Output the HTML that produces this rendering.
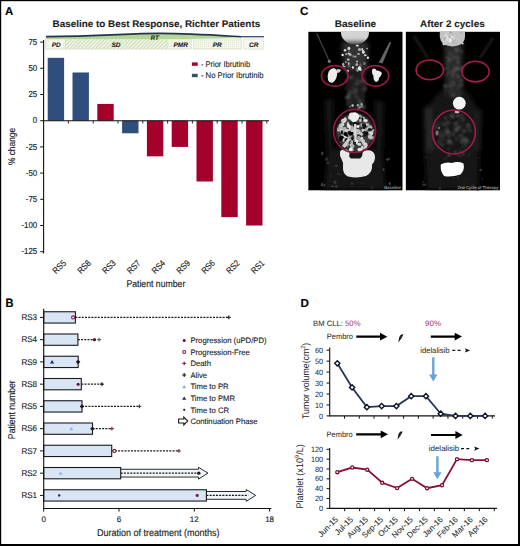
<!DOCTYPE html>
<html><head><meta charset="utf-8"><title>Figure</title>
<style>
html,body{margin:0;padding:0;background:#fff;}
svg{display:block;font-family:"Liberation Sans", sans-serif;text-rendering:geometricPrecision;}
</style></head>
<body>
<svg width="520" height="546" viewBox="0 0 520 546">
<rect x="0.00" y="0.00" width="520.00" height="546.00" fill="#000" />
<rect x="1.20" y="1.20" width="516.80" height="542.80" fill="#fff" />
<text x="5.00" y="14.80" font-size="11.4" text-anchor="start" stroke="#000" stroke-width="0.15" font-weight="bold" fill="#000">A</text>
<text x="52.50" y="26.80" font-size="9.6" text-anchor="start" stroke="#1c1c1c" stroke-width="0.1" font-weight="bold" fill="#1c1c1c" textLength="207.7" lengthAdjust="spacingAndGlyphs">Baseline to Best Response, Richter Patients</text>
<defs>
<pattern id="hatch" width="2.6" height="2.6" patternUnits="userSpaceOnUse" patternTransform="rotate(45)">
<rect width="2.6" height="2.6" fill="#f4f7ec"/><rect width="1.1" height="2.6" fill="#c9dcb4"/></pattern>
<pattern id="dots" width="2" height="2" patternUnits="userSpaceOnUse">
<rect width="2" height="2" fill="#f3f6ea"/><rect width="1" height="1" fill="#e3ebd3"/></pattern>
</defs>
<rect x="45.40" y="38.90" width="20.00" height="10.20" fill="#edf2e2" stroke="#d2dcc4" stroke-width="0.6"/>
<rect x="49.00" y="40.70" width="14.00" height="6.80" fill="#f8faf5" />
<rect x="65.40" y="38.90" width="101.30" height="10.20" fill="url(#hatch)" stroke="#d2dcc4" stroke-width="0.6"/>
<rect x="167.70" y="38.90" width="24.00" height="10.20" fill="#eef2e2" stroke="#d2dcc4" stroke-width="0.6"/>
<rect x="193.20" y="38.90" width="48.30" height="10.20" fill="url(#dots)" stroke="#d2dcc4" stroke-width="0.6"/>
<rect x="243.80" y="38.90" width="20.00" height="10.20" fill="#f5f7ee" stroke="#d2dcc4" stroke-width="0.6"/>
<text x="56.20" y="46.50" font-size="6.5" text-anchor="middle" stroke="#1a1a1a" stroke-width="0.1" font-weight="bold" font-style="italic" fill="#1a1a1a">PD</text>
<text x="116.00" y="46.50" font-size="6.5" text-anchor="middle" stroke="#1a1a1a" stroke-width="0.1" font-weight="bold" font-style="italic" fill="#1a1a1a">SD</text>
<text x="180.70" y="46.50" font-size="6.5" text-anchor="middle" stroke="#1a1a1a" stroke-width="0.1" font-weight="bold" font-style="italic" fill="#1a1a1a">PMR</text>
<text x="217.30" y="46.50" font-size="6.5" text-anchor="middle" stroke="#1a1a1a" stroke-width="0.1" font-weight="bold" font-style="italic" fill="#1a1a1a">PR</text>
<text x="253.80" y="46.50" font-size="6.5" text-anchor="middle" stroke="#1a1a1a" stroke-width="0.1" font-weight="bold" font-style="italic" fill="#1a1a1a">CR</text>
<path d="M46,36.6 C100,36.4 130,33.3 160,33.4 C190,33.5 220,35.5 241,36.7 L241,37.2 Q215,38.9 185,38.9 L46,38.9 Z" fill="#b5d69a"/>
<path d="M46,36.6 C100,36.4 130,33.3 160,33.4 C190,33.5 220,35.5 241,36.7" fill="none" stroke="#24344e" stroke-width="1.6"/>
<path d="M240,36.7 L264,36.7" fill="none" stroke="#34497e" stroke-width="1.3"/>
<text x="154.60" y="39.50" font-size="6.4" text-anchor="middle" stroke="#1d3a1a" stroke-width="0.1" font-weight="bold" font-style="italic" fill="#1d3a1a">RT</text>
<line x1="43.60" y1="40.00" x2="43.60" y2="253.50" stroke="#111" stroke-width="1.1" />
<line x1="40.20" y1="42.10" x2="43.60" y2="42.10" stroke="#111" stroke-width="1" />
<text x="37.20" y="44.85" font-size="8.7" text-anchor="end" stroke="#1c1c1c" stroke-width="0.15" fill="#1c1c1c" textLength="8.79" lengthAdjust="spacingAndGlyphs">75</text>
<line x1="40.20" y1="68.30" x2="43.60" y2="68.30" stroke="#111" stroke-width="1" />
<text x="37.20" y="71.05" font-size="8.7" text-anchor="end" stroke="#1c1c1c" stroke-width="0.15" fill="#1c1c1c" textLength="8.79" lengthAdjust="spacingAndGlyphs">50</text>
<line x1="40.20" y1="94.50" x2="43.60" y2="94.50" stroke="#111" stroke-width="1" />
<text x="37.20" y="97.25" font-size="8.7" text-anchor="end" stroke="#1c1c1c" stroke-width="0.15" fill="#1c1c1c" textLength="8.79" lengthAdjust="spacingAndGlyphs">25</text>
<line x1="40.20" y1="120.70" x2="43.60" y2="120.70" stroke="#111" stroke-width="1" />
<text x="37.20" y="123.45" font-size="8.7" text-anchor="end" stroke="#1c1c1c" stroke-width="0.15" fill="#1c1c1c" textLength="4.39" lengthAdjust="spacingAndGlyphs">0</text>
<line x1="40.20" y1="146.90" x2="43.60" y2="146.90" stroke="#111" stroke-width="1" />
<text x="37.20" y="149.65" font-size="8.7" text-anchor="end" stroke="#1c1c1c" stroke-width="0.15" fill="#1c1c1c" textLength="11.42" lengthAdjust="spacingAndGlyphs">-25</text>
<line x1="40.20" y1="173.10" x2="43.60" y2="173.10" stroke="#111" stroke-width="1" />
<text x="37.20" y="175.85" font-size="8.7" text-anchor="end" stroke="#1c1c1c" stroke-width="0.15" fill="#1c1c1c" textLength="11.42" lengthAdjust="spacingAndGlyphs">-50</text>
<line x1="40.20" y1="199.30" x2="43.60" y2="199.30" stroke="#111" stroke-width="1" />
<text x="37.20" y="202.05" font-size="8.7" text-anchor="end" stroke="#1c1c1c" stroke-width="0.15" fill="#1c1c1c" textLength="11.42" lengthAdjust="spacingAndGlyphs">-75</text>
<line x1="40.20" y1="225.50" x2="43.60" y2="225.50" stroke="#111" stroke-width="1" />
<text x="37.20" y="228.25" font-size="8.7" text-anchor="end" stroke="#1c1c1c" stroke-width="0.15" fill="#1c1c1c" textLength="15.81" lengthAdjust="spacingAndGlyphs">-100</text>
<line x1="40.20" y1="251.70" x2="43.60" y2="251.70" stroke="#111" stroke-width="1" />
<text x="37.20" y="254.45" font-size="8.7" text-anchor="end" stroke="#1c1c1c" stroke-width="0.15" fill="#1c1c1c" textLength="15.81" lengthAdjust="spacingAndGlyphs">-125</text>
<rect x="47.70" y="57.82" width="16.40" height="62.88" fill="#2f4e7d" />
<rect x="72.50" y="72.49" width="16.40" height="48.21" fill="#2f4e7d" />
<rect x="97.30" y="103.93" width="16.40" height="16.77" fill="#a3002b" />
<rect x="122.10" y="120.70" width="16.40" height="12.58" fill="#2f4e7d" />
<rect x="146.90" y="120.70" width="16.40" height="35.63" fill="#a3002b" />
<rect x="171.70" y="120.70" width="16.40" height="26.20" fill="#a3002b" />
<rect x="196.50" y="120.70" width="16.40" height="60.78" fill="#a3002b" />
<rect x="221.30" y="120.70" width="16.40" height="96.42" fill="#a3002b" />
<rect x="246.10" y="120.70" width="16.40" height="104.80" fill="#a3002b" />
<line x1="43.60" y1="120.70" x2="269.00" y2="120.70" stroke="#111" stroke-width="1.1" />
<line x1="68.40" y1="120.70" x2="68.40" y2="123.50" stroke="#111" stroke-width="0.9" />
<line x1="93.20" y1="120.70" x2="93.20" y2="123.50" stroke="#111" stroke-width="0.9" />
<line x1="118.00" y1="120.70" x2="118.00" y2="123.50" stroke="#111" stroke-width="0.9" />
<line x1="142.80" y1="120.70" x2="142.80" y2="123.50" stroke="#111" stroke-width="0.9" />
<line x1="167.60" y1="120.70" x2="167.60" y2="123.50" stroke="#111" stroke-width="0.9" />
<line x1="192.40" y1="120.70" x2="192.40" y2="123.50" stroke="#111" stroke-width="0.9" />
<line x1="217.20" y1="120.70" x2="217.20" y2="123.50" stroke="#111" stroke-width="0.9" />
<line x1="242.00" y1="120.70" x2="242.00" y2="123.50" stroke="#111" stroke-width="0.9" />
<line x1="266.80" y1="120.70" x2="266.80" y2="123.50" stroke="#111" stroke-width="0.9" />
<text x="0" y="0" transform="translate(66.70,263.60) rotate(-45)" font-size="8.8" text-anchor="end" stroke="#1c1c1c" stroke-width="0.15" fill="#1c1c1c" textLength="15.0" lengthAdjust="spacingAndGlyphs">RS5</text>
<text x="0" y="0" transform="translate(91.50,263.60) rotate(-45)" font-size="8.8" text-anchor="end" stroke="#1c1c1c" stroke-width="0.15" fill="#1c1c1c" textLength="15.0" lengthAdjust="spacingAndGlyphs">RS8</text>
<text x="0" y="0" transform="translate(116.30,263.60) rotate(-45)" font-size="8.8" text-anchor="end" stroke="#1c1c1c" stroke-width="0.15" fill="#1c1c1c" textLength="15.0" lengthAdjust="spacingAndGlyphs">RS3</text>
<text x="0" y="0" transform="translate(141.10,263.60) rotate(-45)" font-size="8.8" text-anchor="end" stroke="#1c1c1c" stroke-width="0.15" fill="#1c1c1c" textLength="15.0" lengthAdjust="spacingAndGlyphs">RS7</text>
<text x="0" y="0" transform="translate(165.90,263.60) rotate(-45)" font-size="8.8" text-anchor="end" stroke="#1c1c1c" stroke-width="0.15" fill="#1c1c1c" textLength="15.0" lengthAdjust="spacingAndGlyphs">RS4</text>
<text x="0" y="0" transform="translate(190.70,263.60) rotate(-45)" font-size="8.8" text-anchor="end" stroke="#1c1c1c" stroke-width="0.15" fill="#1c1c1c" textLength="15.0" lengthAdjust="spacingAndGlyphs">RS9</text>
<text x="0" y="0" transform="translate(215.50,263.60) rotate(-45)" font-size="8.8" text-anchor="end" stroke="#1c1c1c" stroke-width="0.15" fill="#1c1c1c" textLength="15.0" lengthAdjust="spacingAndGlyphs">RS6</text>
<text x="0" y="0" transform="translate(240.30,263.60) rotate(-45)" font-size="8.8" text-anchor="end" stroke="#1c1c1c" stroke-width="0.15" fill="#1c1c1c" textLength="15.0" lengthAdjust="spacingAndGlyphs">RS2</text>
<text x="0" y="0" transform="translate(265.10,263.60) rotate(-45)" font-size="8.8" text-anchor="end" stroke="#1c1c1c" stroke-width="0.15" fill="#1c1c1c" textLength="15.0" lengthAdjust="spacingAndGlyphs">RS1</text>
<text x="126.40" y="286.90" font-size="9.8" text-anchor="start" stroke="#1c1c1c" stroke-width="0.15" fill="#1c1c1c" textLength="58.9" lengthAdjust="spacingAndGlyphs">Patient number</text>
<text x="0" y="0" transform="translate(15.10,146.50) rotate(-90)" font-size="9.6" text-anchor="middle" stroke="#1c1c1c" stroke-width="0.15" fill="#1c1c1c" textLength="37.2" lengthAdjust="spacingAndGlyphs">% change</text>
<rect x="191.90" y="62.40" width="5.80" height="3.40" fill="#a3002b" />
<rect x="191.90" y="73.80" width="5.80" height="3.40" fill="#2e5272" />
<text x="200.90" y="66.80" font-size="8.3" text-anchor="start" stroke="#1c1c1c" stroke-width="0.12" fill="#1c1c1c" textLength="49.2" lengthAdjust="spacingAndGlyphs">- Prior Ibrutinib</text>
<text x="200.90" y="78.30" font-size="8.3" text-anchor="start" stroke="#1c1c1c" stroke-width="0.12" fill="#1c1c1c" textLength="62.6" lengthAdjust="spacingAndGlyphs">- No Prior Ibrutinib</text>
<text x="300.00" y="15.00" font-size="11.6" text-anchor="start" stroke="#000" stroke-width="0.15" font-weight="bold" fill="#000">C</text>
<text x="334.70" y="27.20" font-size="9.6" text-anchor="start" stroke="#1c1c1c" stroke-width="0.1" font-weight="bold" fill="#1c1c1c" textLength="41.5" lengthAdjust="spacingAndGlyphs">Baseline</text>
<text x="420.00" y="27.20" font-size="9.6" text-anchor="start" stroke="#1c1c1c" stroke-width="0.1" font-weight="bold" fill="#1c1c1c" textLength="64.7" lengthAdjust="spacingAndGlyphs">After 2 cycles</text>
<defs>
<filter id="bl1" x="-50%" y="-50%" width="200%" height="200%"><feGaussianBlur stdDeviation="1.2"/></filter>
<filter id="bl2" x="-50%" y="-50%" width="200%" height="200%"><feGaussianBlur stdDeviation="2.5"/></filter>
<filter id="bl05" x="-50%" y="-50%" width="200%" height="200%"><feGaussianBlur stdDeviation="0.45"/></filter>
<filter id="bl07" x="-50%" y="-50%" width="200%" height="200%"><feGaussianBlur stdDeviation="0.7"/></filter>
<clipPath id="c1"><rect x="308.2" y="31.6" width="94.5" height="159"/></clipPath>
<clipPath id="c2"><rect x="405.6" y="31.6" width="94.4" height="159"/></clipPath>
</defs>
<g clip-path="url(#c1)">
<rect x="308.2" y="31.6" width="94.5" height="159" fill="#000"/>
<g filter="url(#bl2)">
<path d="M325,100 L333,98 L333,150 L327,152 Z" fill="#161616"/>
<path d="M375,100 L384,102 L383,148 L375,150 Z" fill="#161616"/>
<path d="M328,150 Q355,145 382,150 L386,190 L324,190 Z" fill="#141414"/>
</g>
<g filter="url(#bl07)"><ellipse cx="352.8" cy="172.4" rx="1.34" ry="1.83" fill="rgb(54,54,54)"/><ellipse cx="334.9" cy="182.2" rx="1.56" ry="1.75" fill="rgb(55,55,55)"/><ellipse cx="328.4" cy="162.1" rx="1.45" ry="1.87" fill="rgb(30,30,30)"/><ellipse cx="365.1" cy="173.8" rx="1.96" ry="1.58" fill="rgb(50,50,50)"/><ellipse cx="363.9" cy="156.3" rx="1.80" ry="0.88" fill="rgb(25,25,25)"/><ellipse cx="324.4" cy="185.2" rx="0.84" ry="1.36" fill="rgb(63,63,63)"/><ellipse cx="352.0" cy="183.7" rx="1.08" ry="1.15" fill="rgb(58,58,58)"/><ellipse cx="322.3" cy="153.4" rx="1.13" ry="2.00" fill="rgb(66,66,66)"/><ellipse cx="389.7" cy="183.6" rx="1.10" ry="1.71" fill="rgb(70,70,70)"/><ellipse cx="356.9" cy="151.2" rx="1.72" ry="1.28" fill="rgb(61,61,61)"/><ellipse cx="379.6" cy="165.5" rx="1.82" ry="0.80" fill="rgb(26,26,26)"/><ellipse cx="336.3" cy="186.4" rx="1.25" ry="1.65" fill="rgb(55,55,55)"/><ellipse cx="350.5" cy="172.6" rx="1.73" ry="1.12" fill="rgb(37,37,37)"/><ellipse cx="327.9" cy="163.3" rx="1.71" ry="0.94" fill="rgb(51,51,51)"/><ellipse cx="338.8" cy="154.0" rx="1.36" ry="1.38" fill="rgb(28,28,28)"/><ellipse cx="368.4" cy="157.5" rx="1.03" ry="1.68" fill="rgb(57,57,57)"/><ellipse cx="330.9" cy="175.7" rx="1.27" ry="1.99" fill="rgb(32,32,32)"/><ellipse cx="322.0" cy="184.6" rx="1.16" ry="1.86" fill="rgb(62,62,62)"/><ellipse cx="336.3" cy="165.8" rx="1.57" ry="0.92" fill="rgb(63,63,63)"/><ellipse cx="389.3" cy="158.5" rx="0.81" ry="1.53" fill="rgb(41,41,41)"/><ellipse cx="378.5" cy="165.4" rx="0.91" ry="1.50" fill="rgb(29,29,29)"/><ellipse cx="338.5" cy="174.1" rx="1.55" ry="0.95" fill="rgb(48,48,48)"/><ellipse cx="361.9" cy="183.3" rx="1.84" ry="1.02" fill="rgb(33,33,33)"/><ellipse cx="332.5" cy="186.3" rx="1.10" ry="1.03" fill="rgb(64,64,64)"/><ellipse cx="372.3" cy="187.6" rx="1.62" ry="1.27" fill="rgb(37,37,37)"/><ellipse cx="354.8" cy="153.1" rx="0.92" ry="0.85" fill="rgb(28,28,28)"/><ellipse cx="387.5" cy="159.5" rx="1.27" ry="1.30" fill="rgb(70,70,70)"/><ellipse cx="383.5" cy="169.6" rx="1.01" ry="1.66" fill="rgb(58,58,58)"/><ellipse cx="326.7" cy="159.1" rx="1.58" ry="1.54" fill="rgb(60,60,60)"/><ellipse cx="327.0" cy="158.5" rx="1.70" ry="0.88" fill="rgb(38,38,38)"/></g>
<g filter="url(#bl05)"><line x1="316.8" y1="33.5" x2="329" y2="60.5" stroke="#3c3c3c" stroke-width="1.4"/><circle cx="329.3" cy="61.3" r="1.6" fill="#7a7a7a"/>
<path d="M389.8,41.5 L391,43 L382.5,63.5 L378.8,62.5 Z" fill="#666"/></g>
<ellipse cx="355" cy="32.5" rx="14" ry="12" fill="#d4d4d4" filter="url(#bl05)"/>
<path d="M342,42 L368,42 L367,72 L344,72 Z" fill="#333" filter="url(#bl2)"/>
<path d="M346,72 L366,72 L365,110 L347,110 Z" fill="#1c1c1c" filter="url(#bl1)"/>
<g filter="url(#bl05)"><ellipse cx="348.2" cy="59.7" rx="1.52" ry="1.13" fill="rgb(184,184,184)"/><ellipse cx="357.1" cy="61.4" rx="0.93" ry="0.91" fill="rgb(210,210,210)"/><ellipse cx="367.9" cy="57.7" rx="1.13" ry="1.28" fill="rgb(230,230,230)"/><ellipse cx="345.9" cy="62.1" rx="1.05" ry="0.71" fill="rgb(223,223,223)"/><ellipse cx="362.2" cy="49.3" rx="0.74" ry="1.40" fill="rgb(241,241,241)"/><ellipse cx="363.4" cy="52.3" rx="1.35" ry="1.49" fill="rgb(242,242,242)"/><ellipse cx="360.6" cy="69.9" rx="1.36" ry="1.22" fill="rgb(191,191,191)"/><ellipse cx="367.1" cy="48.6" rx="0.79" ry="0.82" fill="rgb(183,183,183)"/><ellipse cx="347.6" cy="71.1" rx="1.40" ry="1.47" fill="rgb(201,201,201)"/><ellipse cx="352.9" cy="67.5" rx="1.02" ry="1.23" fill="rgb(236,236,236)"/><ellipse cx="357.2" cy="69.4" rx="1.47" ry="1.59" fill="rgb(97,97,97)"/><ellipse cx="359.5" cy="49.4" rx="1.57" ry="1.51" fill="rgb(173,173,173)"/><ellipse cx="356.8" cy="64.3" rx="1.27" ry="1.59" fill="rgb(144,144,144)"/><ellipse cx="348.9" cy="48.4" rx="1.47" ry="1.59" fill="rgb(213,213,213)"/><ellipse cx="344.3" cy="66.6" rx="1.51" ry="0.72" fill="rgb(195,195,195)"/><ellipse cx="353.1" cy="56.2" rx="0.74" ry="1.25" fill="rgb(120,120,120)"/><ellipse cx="343.2" cy="64.4" rx="1.20" ry="1.53" fill="rgb(174,174,174)"/><ellipse cx="349.3" cy="51.4" rx="0.98" ry="0.77" fill="rgb(99,99,99)"/><ellipse cx="357.6" cy="45.8" rx="1.57" ry="0.96" fill="rgb(140,140,140)"/><ellipse cx="348.8" cy="63.6" rx="0.98" ry="1.56" fill="rgb(176,176,176)"/><ellipse cx="365.3" cy="55.2" rx="1.48" ry="1.05" fill="rgb(207,207,207)"/><ellipse cx="364.5" cy="63.4" rx="1.26" ry="1.55" fill="rgb(116,116,116)"/><ellipse cx="355.2" cy="56.6" rx="1.54" ry="1.09" fill="rgb(150,150,150)"/><ellipse cx="348.7" cy="53.2" rx="0.71" ry="1.07" fill="rgb(176,176,176)"/><ellipse cx="357.1" cy="45.5" rx="1.23" ry="0.82" fill="rgb(247,247,247)"/><ellipse cx="358.5" cy="54.0" rx="1.31" ry="1.02" fill="rgb(180,180,180)"/><ellipse cx="360.4" cy="64.9" rx="1.23" ry="1.56" fill="rgb(95,95,95)"/><ellipse cx="342.6" cy="55.0" rx="1.11" ry="1.23" fill="rgb(250,250,250)"/><ellipse cx="350.3" cy="54.8" rx="1.38" ry="1.46" fill="rgb(170,170,170)"/><ellipse cx="348.9" cy="66.3" rx="1.40" ry="0.72" fill="rgb(116,116,116)"/><ellipse cx="356.8" cy="64.8" rx="1.15" ry="1.29" fill="rgb(169,169,169)"/><ellipse cx="349.0" cy="53.9" rx="1.28" ry="0.79" fill="rgb(201,201,201)"/><ellipse cx="357.6" cy="70.6" rx="1.09" ry="1.47" fill="rgb(147,147,147)"/><ellipse cx="346.4" cy="54.1" rx="1.50" ry="1.11" fill="rgb(145,145,145)"/></g>
<g filter="url(#bl05)"><ellipse cx="359.5" cy="68.2" rx="1.6" ry="2" fill="#f0f0f0"/><ellipse cx="345" cy="50.3" rx="1.2" ry="1.2" fill="#ddd"/><ellipse cx="363" cy="51" rx="1.2" ry="1.3" fill="#ccc"/></g>
<g filter="url(#bl1)"><ellipse cx="349.3" cy="96.8" rx="1.34" ry="2.01" fill="rgb(70,70,70)"/><ellipse cx="365.8" cy="89.1" rx="1.22" ry="1.63" fill="rgb(62,62,62)"/><ellipse cx="361.8" cy="72.5" rx="1.51" ry="1.17" fill="rgb(67,67,67)"/><ellipse cx="361.0" cy="105.2" rx="1.05" ry="2.20" fill="rgb(74,74,74)"/><ellipse cx="360.8" cy="103.5" rx="1.53" ry="2.15" fill="rgb(69,69,69)"/><ellipse cx="356.8" cy="97.0" rx="2.14" ry="1.44" fill="rgb(71,71,71)"/><ellipse cx="349.1" cy="101.4" rx="1.97" ry="1.02" fill="rgb(37,37,37)"/><ellipse cx="349.2" cy="98.2" rx="1.58" ry="1.22" fill="rgb(55,55,55)"/><ellipse cx="346.7" cy="103.2" rx="1.09" ry="1.24" fill="rgb(45,45,45)"/><ellipse cx="359.5" cy="100.9" rx="1.91" ry="1.92" fill="rgb(72,72,72)"/><ellipse cx="357.6" cy="98.3" rx="1.67" ry="1.67" fill="rgb(37,37,37)"/><ellipse cx="353.8" cy="84.3" rx="2.07" ry="1.49" fill="rgb(39,39,39)"/><ellipse cx="353.3" cy="88.2" rx="1.38" ry="1.58" fill="rgb(54,54,54)"/><ellipse cx="351.3" cy="102.0" rx="1.86" ry="2.19" fill="rgb(40,40,40)"/><ellipse cx="355.9" cy="89.7" rx="1.72" ry="1.63" fill="rgb(65,65,65)"/><ellipse cx="357.4" cy="83.5" rx="1.14" ry="1.80" fill="rgb(69,69,69)"/><ellipse cx="358.5" cy="102.0" rx="1.42" ry="1.72" fill="rgb(51,51,51)"/><ellipse cx="352.1" cy="75.7" rx="2.11" ry="1.21" fill="rgb(34,34,34)"/><ellipse cx="354.6" cy="77.8" rx="1.81" ry="2.08" fill="rgb(32,32,32)"/><ellipse cx="365.2" cy="86.7" rx="2.15" ry="1.71" fill="rgb(40,40,40)"/><ellipse cx="363.7" cy="89.7" rx="1.80" ry="2.12" fill="rgb(54,54,54)"/><ellipse cx="350.9" cy="92.2" rx="1.97" ry="1.93" fill="rgb(58,58,58)"/><ellipse cx="355.7" cy="102.1" rx="2.02" ry="1.79" fill="rgb(33,33,33)"/><ellipse cx="346.7" cy="80.9" rx="1.08" ry="1.41" fill="rgb(55,55,55)"/><ellipse cx="364.0" cy="107.4" rx="1.87" ry="1.06" fill="rgb(77,77,77)"/><ellipse cx="348.8" cy="95.4" rx="1.57" ry="2.14" fill="rgb(76,76,76)"/><ellipse cx="364.0" cy="85.2" rx="2.06" ry="1.72" fill="rgb(39,39,39)"/><ellipse cx="354.5" cy="92.9" rx="1.37" ry="1.64" fill="rgb(60,60,60)"/><ellipse cx="351.5" cy="99.7" rx="1.46" ry="1.15" fill="rgb(30,30,30)"/><ellipse cx="360.3" cy="81.5" rx="1.77" ry="2.02" fill="rgb(50,50,50)"/><ellipse cx="357.7" cy="81.3" rx="1.90" ry="1.97" fill="rgb(55,55,55)"/><ellipse cx="348.8" cy="77.1" rx="1.11" ry="1.03" fill="rgb(55,55,55)"/><ellipse cx="354.9" cy="77.1" rx="1.79" ry="1.15" fill="rgb(37,37,37)"/><ellipse cx="356.8" cy="83.7" rx="2.07" ry="1.75" fill="rgb(61,61,61)"/><ellipse cx="349.6" cy="102.9" rx="1.85" ry="1.66" fill="rgb(42,42,42)"/><ellipse cx="346.9" cy="97.6" rx="1.93" ry="1.95" fill="rgb(77,77,77)"/><ellipse cx="346.2" cy="88.7" rx="1.48" ry="1.68" fill="rgb(34,34,34)"/><ellipse cx="363.1" cy="80.4" rx="1.73" ry="1.89" fill="rgb(74,74,74)"/><ellipse cx="350.9" cy="77.6" rx="2.08" ry="1.35" fill="rgb(76,76,76)"/><ellipse cx="356.1" cy="91.8" rx="1.12" ry="1.72" fill="rgb(66,66,66)"/></g>
<g filter="url(#bl05)"><ellipse cx="352.6" cy="105.5" rx="1.26" ry="1.32" fill="rgb(197,197,197)"/><ellipse cx="358.1" cy="105.3" rx="1.15" ry="0.83" fill="rgb(138,138,138)"/><ellipse cx="350.0" cy="106.8" rx="0.72" ry="0.79" fill="rgb(147,147,147)"/><ellipse cx="358.6" cy="108.0" rx="1.28" ry="0.76" fill="rgb(145,145,145)"/><ellipse cx="360.1" cy="107.1" rx="1.28" ry="1.22" fill="rgb(143,143,143)"/><ellipse cx="362.3" cy="106.4" rx="0.95" ry="0.86" fill="rgb(142,142,142)"/><ellipse cx="361.6" cy="104.4" rx="1.17" ry="1.32" fill="rgb(164,164,164)"/><ellipse cx="357.9" cy="105.2" rx="1.27" ry="1.26" fill="rgb(154,154,154)"/></g>
<g filter="url(#bl05)"><path d="M328.5,72 Q331,67.5 335,68.5 Q338,70.5 337,75 Q336.5,80 333,82.5 Q329,83.5 328,80 Q327,76 328.5,72 Z" fill="#ececec"/>
<path d="M336,70 Q339,68 341,70 Q340,73 337.5,73 Z" fill="#cfcfcf"/>
<path d="M372.5,69 Q375,67.5 376.5,70.5 Q380,70 382,73 Q381,76.5 379,78 Q379,81.5 376,82 Q373,80 373.5,76 Q371,72.5 372.5,69 Z" fill="#ececec"/></g>
<ellipse cx="355" cy="132" rx="19" ry="19" fill="#3c3c3c" filter="url(#bl1)"/>
<g filter="url(#bl07)"><ellipse cx="343.6" cy="120.9" rx="2.41" ry="2.11" fill="rgb(248,248,248)"/><ellipse cx="357.8" cy="130.5" rx="2.16" ry="1.37" fill="rgb(219,219,219)"/><ellipse cx="361.9" cy="134.3" rx="1.70" ry="1.37" fill="rgb(207,207,207)"/><ellipse cx="341.5" cy="128.2" rx="2.10" ry="1.61" fill="rgb(161,161,161)"/><ellipse cx="362.1" cy="147.7" rx="1.24" ry="2.20" fill="rgb(209,209,209)"/><ellipse cx="364.4" cy="143.1" rx="1.20" ry="2.46" fill="rgb(176,176,176)"/><ellipse cx="371.3" cy="132.5" rx="2.31" ry="1.43" fill="rgb(181,181,181)"/><ellipse cx="368.2" cy="128.7" rx="1.94" ry="1.27" fill="rgb(246,246,246)"/><ellipse cx="363.0" cy="130.4" rx="1.45" ry="1.54" fill="rgb(209,209,209)"/><ellipse cx="358.6" cy="138.1" rx="1.50" ry="2.23" fill="rgb(168,168,168)"/><ellipse cx="342.8" cy="124.6" rx="1.51" ry="1.46" fill="rgb(250,250,250)"/><ellipse cx="360.4" cy="120.3" rx="1.28" ry="1.71" fill="rgb(200,200,200)"/><ellipse cx="359.2" cy="140.4" rx="2.42" ry="1.54" fill="rgb(162,162,162)"/><ellipse cx="343.7" cy="139.8" rx="1.55" ry="1.87" fill="rgb(213,213,213)"/><ellipse cx="359.0" cy="132.2" rx="1.94" ry="2.43" fill="rgb(183,183,183)"/><ellipse cx="361.7" cy="138.2" rx="1.52" ry="1.53" fill="rgb(219,219,219)"/><ellipse cx="338.9" cy="129.5" rx="1.88" ry="2.17" fill="rgb(173,173,173)"/><ellipse cx="348.2" cy="139.5" rx="2.42" ry="1.14" fill="rgb(215,215,215)"/><ellipse cx="347.2" cy="144.2" rx="1.51" ry="2.39" fill="rgb(178,178,178)"/><ellipse cx="345.1" cy="129.1" rx="1.46" ry="2.20" fill="rgb(200,200,200)"/><ellipse cx="344.0" cy="120.8" rx="2.50" ry="1.24" fill="rgb(199,199,199)"/><ellipse cx="372.5" cy="137.5" rx="2.39" ry="1.05" fill="rgb(228,228,228)"/><ellipse cx="354.4" cy="121.2" rx="1.68" ry="1.63" fill="rgb(192,192,192)"/><ellipse cx="371.6" cy="138.1" rx="2.20" ry="1.50" fill="rgb(164,164,164)"/><ellipse cx="359.9" cy="149.7" rx="2.42" ry="1.95" fill="rgb(232,232,232)"/><ellipse cx="356.4" cy="126.1" rx="1.56" ry="1.09" fill="rgb(215,215,215)"/><ellipse cx="348.9" cy="135.3" rx="2.28" ry="2.46" fill="rgb(239,239,239)"/><ellipse cx="342.6" cy="135.7" rx="1.72" ry="1.44" fill="rgb(200,200,200)"/><ellipse cx="349.2" cy="136.0" rx="2.23" ry="1.80" fill="rgb(208,208,208)"/><ellipse cx="362.7" cy="148.2" rx="1.27" ry="1.74" fill="rgb(203,203,203)"/><ellipse cx="341.4" cy="130.7" rx="1.54" ry="2.18" fill="rgb(224,224,224)"/><ellipse cx="357.4" cy="116.8" rx="1.05" ry="1.46" fill="rgb(244,244,244)"/><ellipse cx="340.9" cy="126.5" rx="1.40" ry="2.47" fill="rgb(222,222,222)"/><ellipse cx="351.2" cy="114.3" rx="1.97" ry="1.87" fill="rgb(203,203,203)"/><ellipse cx="368.6" cy="133.0" rx="1.49" ry="1.41" fill="rgb(192,192,192)"/><ellipse cx="351.8" cy="144.7" rx="2.20" ry="1.52" fill="rgb(246,246,246)"/><ellipse cx="345.2" cy="119.5" rx="1.53" ry="2.26" fill="rgb(212,212,212)"/><ellipse cx="365.5" cy="120.8" rx="2.43" ry="1.78" fill="rgb(206,206,206)"/><ellipse cx="347.6" cy="130.6" rx="2.41" ry="1.72" fill="rgb(206,206,206)"/><ellipse cx="349.4" cy="117.4" rx="1.26" ry="2.17" fill="rgb(213,213,213)"/><ellipse cx="341.8" cy="124.7" rx="1.45" ry="1.83" fill="rgb(213,213,213)"/><ellipse cx="361.5" cy="124.9" rx="1.29" ry="1.88" fill="rgb(163,163,163)"/><ellipse cx="349.4" cy="126.5" rx="1.27" ry="2.08" fill="rgb(247,247,247)"/><ellipse cx="373.2" cy="130.4" rx="1.08" ry="1.20" fill="rgb(181,181,181)"/><ellipse cx="351.8" cy="139.2" rx="1.82" ry="1.62" fill="rgb(184,184,184)"/><ellipse cx="346.1" cy="144.1" rx="1.89" ry="1.36" fill="rgb(169,169,169)"/><ellipse cx="355.4" cy="131.7" rx="2.43" ry="2.28" fill="rgb(211,211,211)"/><ellipse cx="365.3" cy="120.6" rx="1.56" ry="1.05" fill="rgb(230,230,230)"/><ellipse cx="350.7" cy="128.3" rx="1.77" ry="2.43" fill="rgb(229,229,229)"/><ellipse cx="352.1" cy="142.6" rx="1.63" ry="2.22" fill="rgb(176,176,176)"/><ellipse cx="348.0" cy="123.2" rx="1.24" ry="1.57" fill="rgb(178,178,178)"/><ellipse cx="346.8" cy="133.2" rx="1.91" ry="1.53" fill="rgb(177,177,177)"/><ellipse cx="355.4" cy="131.6" rx="1.49" ry="2.37" fill="rgb(173,173,173)"/><ellipse cx="344.8" cy="129.4" rx="1.56" ry="1.65" fill="rgb(232,232,232)"/><ellipse cx="356.5" cy="141.9" rx="1.57" ry="2.44" fill="rgb(250,250,250)"/><ellipse cx="367.2" cy="124.6" rx="2.11" ry="1.45" fill="rgb(193,193,193)"/><ellipse cx="355.0" cy="134.6" rx="1.74" ry="1.43" fill="rgb(199,199,199)"/><ellipse cx="348.6" cy="132.9" rx="2.44" ry="1.37" fill="rgb(239,239,239)"/><ellipse cx="361.6" cy="133.7" rx="1.02" ry="1.80" fill="rgb(210,210,210)"/><ellipse cx="352.3" cy="149.7" rx="1.37" ry="1.40" fill="rgb(164,164,164)"/><ellipse cx="365.4" cy="147.2" rx="1.74" ry="2.49" fill="rgb(197,197,197)"/><ellipse cx="337.9" cy="130.0" rx="1.02" ry="1.19" fill="rgb(175,175,175)"/><ellipse cx="351.9" cy="147.2" rx="1.45" ry="1.79" fill="rgb(238,238,238)"/><ellipse cx="344.2" cy="134.5" rx="1.20" ry="1.00" fill="rgb(235,235,235)"/><ellipse cx="340.5" cy="127.0" rx="2.33" ry="1.82" fill="rgb(173,173,173)"/><ellipse cx="371.3" cy="133.5" rx="1.89" ry="2.03" fill="rgb(214,214,214)"/><ellipse cx="369.3" cy="127.7" rx="1.71" ry="2.02" fill="rgb(209,209,209)"/><ellipse cx="351.7" cy="114.8" rx="2.25" ry="1.10" fill="rgb(219,219,219)"/><ellipse cx="363.0" cy="118.8" rx="1.87" ry="1.97" fill="rgb(215,215,215)"/><ellipse cx="344.8" cy="133.8" rx="1.72" ry="1.82" fill="rgb(181,181,181)"/><ellipse cx="344.4" cy="132.2" rx="1.64" ry="1.81" fill="rgb(179,179,179)"/><ellipse cx="370.1" cy="136.8" rx="2.23" ry="2.19" fill="rgb(194,194,194)"/><ellipse cx="353.5" cy="129.5" rx="2.47" ry="2.50" fill="rgb(214,214,214)"/><ellipse cx="353.8" cy="128.1" rx="1.33" ry="1.97" fill="rgb(175,175,175)"/><ellipse cx="369.9" cy="127.4" rx="2.49" ry="2.06" fill="rgb(177,177,177)"/><ellipse cx="347.7" cy="135.0" rx="1.62" ry="1.24" fill="rgb(183,183,183)"/><ellipse cx="352.2" cy="129.3" rx="1.99" ry="2.12" fill="rgb(173,173,173)"/><ellipse cx="352.4" cy="145.7" rx="2.11" ry="2.32" fill="rgb(175,175,175)"/><ellipse cx="363.1" cy="141.1" rx="2.03" ry="1.73" fill="rgb(200,200,200)"/><ellipse cx="345.9" cy="143.9" rx="1.21" ry="1.44" fill="rgb(167,167,167)"/><ellipse cx="341.2" cy="125.6" rx="2.37" ry="1.83" fill="rgb(197,197,197)"/><ellipse cx="348.1" cy="125.5" rx="1.35" ry="2.25" fill="rgb(230,230,230)"/><ellipse cx="351.2" cy="149.9" rx="2.30" ry="1.68" fill="rgb(190,190,190)"/><ellipse cx="349.9" cy="136.3" rx="1.98" ry="1.13" fill="rgb(162,162,162)"/><ellipse cx="352.2" cy="127.1" rx="1.76" ry="1.68" fill="rgb(175,175,175)"/><ellipse cx="345.3" cy="140.0" rx="1.16" ry="1.80" fill="rgb(201,201,201)"/><ellipse cx="343.9" cy="129.0" rx="2.42" ry="1.64" fill="rgb(179,179,179)"/><ellipse cx="359.4" cy="116.6" rx="2.46" ry="2.00" fill="rgb(170,170,170)"/><ellipse cx="358.0" cy="125.8" rx="1.56" ry="2.25" fill="rgb(239,239,239)"/><ellipse cx="350.6" cy="149.3" rx="1.52" ry="1.58" fill="rgb(250,250,250)"/><ellipse cx="366.0" cy="144.8" rx="1.44" ry="1.95" fill="rgb(242,242,242)"/><ellipse cx="365.8" cy="129.3" rx="1.89" ry="1.86" fill="rgb(164,164,164)"/><ellipse cx="354.3" cy="120.4" rx="1.06" ry="1.28" fill="rgb(172,172,172)"/><ellipse cx="359.3" cy="144.2" rx="1.99" ry="1.52" fill="rgb(221,221,221)"/><ellipse cx="345.9" cy="136.5" rx="2.38" ry="1.48" fill="rgb(239,239,239)"/></g>
<g filter="url(#bl07)"><ellipse cx="358.9" cy="118.0" rx="1.91" ry="1.04" fill="rgb(15,15,15)"/><ellipse cx="362.5" cy="141.7" rx="1.91" ry="1.45" fill="rgb(30,30,30)"/><ellipse cx="356.1" cy="123.7" rx="1.24" ry="2.05" fill="rgb(25,25,25)"/><ellipse cx="364.9" cy="125.7" rx="1.23" ry="1.66" fill="rgb(3,3,3)"/><ellipse cx="357.8" cy="124.2" rx="1.73" ry="1.11" fill="rgb(25,25,25)"/><ellipse cx="340.8" cy="139.3" rx="1.96" ry="1.97" fill="rgb(11,11,11)"/><ellipse cx="350.4" cy="133.7" rx="1.84" ry="1.96" fill="rgb(6,6,6)"/><ellipse cx="357.8" cy="134.0" rx="1.24" ry="1.79" fill="rgb(28,28,28)"/><ellipse cx="345.1" cy="143.9" rx="1.23" ry="1.69" fill="rgb(29,29,29)"/><ellipse cx="369.8" cy="129.2" rx="2.17" ry="1.03" fill="rgb(16,16,16)"/><ellipse cx="347.0" cy="141.5" rx="1.43" ry="1.14" fill="rgb(9,9,9)"/><ellipse cx="341.8" cy="132.0" rx="1.14" ry="1.80" fill="rgb(6,6,6)"/><ellipse cx="352.3" cy="138.6" rx="1.27" ry="1.72" fill="rgb(15,15,15)"/><ellipse cx="362.5" cy="119.1" rx="1.02" ry="1.93" fill="rgb(16,16,16)"/><ellipse cx="364.2" cy="133.0" rx="1.81" ry="1.74" fill="rgb(28,28,28)"/><ellipse cx="346.8" cy="140.2" rx="1.15" ry="2.20" fill="rgb(9,9,9)"/><ellipse cx="364.8" cy="135.5" rx="2.20" ry="1.12" fill="rgb(23,23,23)"/><ellipse cx="341.6" cy="137.2" rx="2.07" ry="1.80" fill="rgb(2,2,2)"/><ellipse cx="363.2" cy="125.2" rx="1.46" ry="1.09" fill="rgb(26,26,26)"/><ellipse cx="347.1" cy="135.9" rx="1.49" ry="1.10" fill="rgb(26,26,26)"/><ellipse cx="354.8" cy="123.8" rx="1.87" ry="2.16" fill="rgb(15,15,15)"/><ellipse cx="366.7" cy="133.4" rx="1.71" ry="1.43" fill="rgb(8,8,8)"/><ellipse cx="354.6" cy="142.7" rx="1.62" ry="2.18" fill="rgb(29,29,29)"/><ellipse cx="364.3" cy="127.4" rx="1.32" ry="1.57" fill="rgb(15,15,15)"/><ellipse cx="349.0" cy="132.8" rx="1.60" ry="1.76" fill="rgb(12,12,12)"/><ellipse cx="345.5" cy="134.0" rx="2.16" ry="2.11" fill="rgb(5,5,5)"/><ellipse cx="346.2" cy="140.7" rx="1.78" ry="2.17" fill="rgb(10,10,10)"/><ellipse cx="354.2" cy="125.7" rx="1.35" ry="1.01" fill="rgb(26,26,26)"/><ellipse cx="351.4" cy="133.2" rx="1.73" ry="1.68" fill="rgb(0,0,0)"/><ellipse cx="351.0" cy="123.1" rx="1.60" ry="1.71" fill="rgb(30,30,30)"/></g>
<g filter="url(#bl07)"><path d="M349,115 Q351,111.5 356,112.5 Q360,114 359,118 Q357,122.5 353,122 Q349.5,120.5 349,115 Z" fill="#eee"/>
<path d="M354,124 L356.3,124 L356.8,142 L354.4,142 Z" fill="#d8d8d8"/><path d="M351,130 L354.5,129 L354.5,131 L351,132 Z" fill="#ccc"/><path d="M356.5,133 L360,131.5 L360.5,133.5 L356.5,135 Z" fill="#ccc"/>
<path d="M342,146 L348,138 L350,140 L345,148 Z" fill="#ccc"/><path d="M368,146 L362,138 L360,140 L365,148 Z" fill="#ccc"/></g>
<path d="M340,152 Q341,148.8 345.5,149.2 Q350,150 349.5,154 Q348.5,157 351,158.5 L360,158.5 Q362.5,157 362.5,153 Q364,149.5 369,150.3 Q375,151.5 375,157 Q375,162 372,164.5 Q373,172.5 366,176 Q357,178.5 348,176.5 Q342.5,174 343,167 Q343.5,162 341.5,159 Q339.5,156 340,152 Z" fill="#e8e8e8" filter="url(#bl05)"/>
<ellipse cx="334.8" cy="75.9" rx="13.3" ry="10.2" fill="none" stroke="#921a3e" stroke-width="1.7"/>
<ellipse cx="375.4" cy="75.9" rx="13.3" ry="10.2" fill="none" stroke="#921a3e" stroke-width="1.7"/>
<ellipse cx="354.6" cy="131" rx="21" ry="21.6" fill="none" stroke="#921a3e" stroke-width="1.7"/>
<text x="401" y="189.3" font-size="4.4" text-anchor="end" fill="#c8c8c8">Baseline</text>
</g>
<g clip-path="url(#c2)">
<rect x="405.6" y="31.6" width="94.4" height="159" fill="#000"/>
<g filter="url(#bl2)">
<path d="M446,60 L461,60 L462,88 Q474,96 477,112 Q481,150 478,190 L427,190 Q423,150 427,112 Q432,96 445,88 Z" fill="#181818"/>
<path d="M424,108 L431,106 L433,150 L426,152 Z" fill="#2a2a2a"/>
<path d="M476,108 L481,110 L480,150 L475,150 Z" fill="#222"/>
<path d="M444,42 L463,42 L461,96 L447,96 Z" fill="#2a2a2a"/>
</g>
<g filter="url(#bl1)"><ellipse cx="450.5" cy="53.5" rx="1.06" ry="1.99" fill="rgb(76,76,76)"/><ellipse cx="446.6" cy="75.1" rx="1.26" ry="1.10" fill="rgb(67,67,67)"/><ellipse cx="452.1" cy="58.0" rx="1.51" ry="1.99" fill="rgb(70,70,70)"/><ellipse cx="447.1" cy="57.2" rx="1.70" ry="1.07" fill="rgb(75,75,75)"/><ellipse cx="455.0" cy="48.5" rx="1.06" ry="2.03" fill="rgb(49,49,49)"/><ellipse cx="449.9" cy="53.2" rx="1.69" ry="1.67" fill="rgb(42,42,42)"/><ellipse cx="456.6" cy="51.2" rx="1.77" ry="1.45" fill="rgb(71,71,71)"/><ellipse cx="454.3" cy="49.1" rx="1.74" ry="1.60" fill="rgb(38,38,38)"/><ellipse cx="454.0" cy="84.9" rx="1.70" ry="1.54" fill="rgb(64,64,64)"/><ellipse cx="450.1" cy="85.7" rx="1.94" ry="1.10" fill="rgb(79,79,79)"/><ellipse cx="450.1" cy="70.8" rx="1.88" ry="1.35" fill="rgb(56,56,56)"/><ellipse cx="461.7" cy="51.9" rx="1.20" ry="1.41" fill="rgb(61,61,61)"/><ellipse cx="460.9" cy="67.1" rx="1.09" ry="1.67" fill="rgb(77,77,77)"/><ellipse cx="458.4" cy="86.9" rx="1.83" ry="1.71" fill="rgb(56,56,56)"/><ellipse cx="454.9" cy="68.8" rx="2.13" ry="1.57" fill="rgb(40,40,40)"/><ellipse cx="456.3" cy="49.0" rx="1.37" ry="1.69" fill="rgb(79,79,79)"/><ellipse cx="456.6" cy="68.3" rx="1.46" ry="1.80" fill="rgb(80,80,80)"/><ellipse cx="445.4" cy="69.1" rx="1.73" ry="1.59" fill="rgb(45,45,45)"/><ellipse cx="448.7" cy="60.4" rx="1.30" ry="1.47" fill="rgb(82,82,82)"/><ellipse cx="459.8" cy="50.0" rx="1.48" ry="1.33" fill="rgb(63,63,63)"/><ellipse cx="447.3" cy="67.5" rx="1.33" ry="1.50" fill="rgb(70,70,70)"/><ellipse cx="451.1" cy="90.2" rx="1.18" ry="1.21" fill="rgb(49,49,49)"/><ellipse cx="448.9" cy="57.7" rx="2.00" ry="1.22" fill="rgb(66,66,66)"/><ellipse cx="449.8" cy="53.3" rx="1.44" ry="1.68" fill="rgb(69,69,69)"/><ellipse cx="461.2" cy="80.5" rx="2.14" ry="1.79" fill="rgb(67,67,67)"/><ellipse cx="457.6" cy="68.8" rx="2.14" ry="1.82" fill="rgb(84,84,84)"/><ellipse cx="454.5" cy="65.9" rx="1.12" ry="1.76" fill="rgb(60,60,60)"/><ellipse cx="446.1" cy="49.4" rx="1.53" ry="1.13" fill="rgb(48,48,48)"/><ellipse cx="455.2" cy="51.1" rx="1.18" ry="1.12" fill="rgb(71,71,71)"/><ellipse cx="451.2" cy="47.3" rx="1.74" ry="1.18" fill="rgb(48,48,48)"/><ellipse cx="449.3" cy="63.4" rx="1.57" ry="1.14" fill="rgb(58,58,58)"/><ellipse cx="453.3" cy="94.9" rx="1.58" ry="1.10" fill="rgb(65,65,65)"/><ellipse cx="446.7" cy="63.1" rx="1.57" ry="1.83" fill="rgb(51,51,51)"/><ellipse cx="453.8" cy="56.3" rx="1.43" ry="1.83" fill="rgb(68,68,68)"/><ellipse cx="460.5" cy="83.9" rx="2.17" ry="2.04" fill="rgb(54,54,54)"/><ellipse cx="456.8" cy="59.1" rx="2.09" ry="1.43" fill="rgb(58,58,58)"/><ellipse cx="448.8" cy="73.1" rx="1.40" ry="1.27" fill="rgb(67,67,67)"/><ellipse cx="458.8" cy="95.2" rx="1.97" ry="1.98" fill="rgb(47,47,47)"/><ellipse cx="457.6" cy="57.3" rx="1.59" ry="1.88" fill="rgb(68,68,68)"/><ellipse cx="461.8" cy="85.5" rx="1.31" ry="1.83" fill="rgb(65,65,65)"/><ellipse cx="461.3" cy="68.4" rx="2.19" ry="2.15" fill="rgb(81,81,81)"/><ellipse cx="451.2" cy="57.0" rx="1.56" ry="1.41" fill="rgb(49,49,49)"/><ellipse cx="453.2" cy="95.3" rx="2.01" ry="1.58" fill="rgb(74,74,74)"/><ellipse cx="456.1" cy="86.0" rx="2.00" ry="1.14" fill="rgb(40,40,40)"/><ellipse cx="451.6" cy="81.6" rx="1.57" ry="1.21" fill="rgb(47,47,47)"/><ellipse cx="458.4" cy="62.6" rx="1.48" ry="1.48" fill="rgb(81,81,81)"/><ellipse cx="461.1" cy="82.2" rx="2.19" ry="1.03" fill="rgb(45,45,45)"/><ellipse cx="455.0" cy="69.3" rx="1.18" ry="1.99" fill="rgb(76,76,76)"/><ellipse cx="461.7" cy="78.9" rx="1.19" ry="1.66" fill="rgb(57,57,57)"/><ellipse cx="445.4" cy="86.0" rx="1.78" ry="1.63" fill="rgb(81,81,81)"/><ellipse cx="460.9" cy="67.7" rx="1.99" ry="1.25" fill="rgb(47,47,47)"/><ellipse cx="449.3" cy="60.6" rx="1.92" ry="1.39" fill="rgb(50,50,50)"/><ellipse cx="454.3" cy="87.7" rx="2.09" ry="1.42" fill="rgb(38,38,38)"/><ellipse cx="452.8" cy="75.2" rx="1.50" ry="2.10" fill="rgb(68,68,68)"/><ellipse cx="453.5" cy="72.6" rx="1.61" ry="2.05" fill="rgb(68,68,68)"/><ellipse cx="458.2" cy="76.4" rx="1.96" ry="1.21" fill="rgb(84,84,84)"/><ellipse cx="453.0" cy="82.3" rx="1.07" ry="1.82" fill="rgb(70,70,70)"/><ellipse cx="454.0" cy="70.1" rx="1.13" ry="1.67" fill="rgb(84,84,84)"/><ellipse cx="449.2" cy="59.8" rx="1.12" ry="1.54" fill="rgb(84,84,84)"/><ellipse cx="445.5" cy="90.7" rx="1.53" ry="1.74" fill="rgb(39,39,39)"/></g>
<g filter="url(#bl1)"><ellipse cx="456.7" cy="150.4" rx="1.27" ry="1.06" fill="rgb(33,33,33)"/><ellipse cx="465.2" cy="145.0" rx="1.29" ry="1.90" fill="rgb(57,57,57)"/><ellipse cx="441.6" cy="135.2" rx="1.80" ry="2.26" fill="rgb(56,56,56)"/><ellipse cx="443.2" cy="139.6" rx="1.03" ry="1.37" fill="rgb(73,73,73)"/><ellipse cx="438.9" cy="141.9" rx="2.02" ry="1.93" fill="rgb(49,49,49)"/><ellipse cx="468.0" cy="141.8" rx="1.87" ry="1.53" fill="rgb(49,49,49)"/><ellipse cx="448.1" cy="122.6" rx="1.12" ry="2.26" fill="rgb(69,69,69)"/><ellipse cx="445.4" cy="131.1" rx="1.20" ry="1.09" fill="rgb(76,76,76)"/><ellipse cx="466.5" cy="127.6" rx="1.21" ry="2.20" fill="rgb(37,37,37)"/><ellipse cx="440.0" cy="135.9" rx="1.40" ry="1.50" fill="rgb(53,53,53)"/><ellipse cx="459.0" cy="127.2" rx="1.84" ry="1.74" fill="rgb(73,73,73)"/><ellipse cx="449.6" cy="142.5" rx="2.18" ry="1.71" fill="rgb(66,66,66)"/><ellipse cx="456.4" cy="139.0" rx="1.40" ry="1.92" fill="rgb(58,58,58)"/><ellipse cx="460.3" cy="115.6" rx="1.76" ry="1.48" fill="rgb(69,69,69)"/><ellipse cx="462.6" cy="126.3" rx="1.37" ry="1.59" fill="rgb(39,39,39)"/><ellipse cx="441.6" cy="144.1" rx="1.25" ry="1.55" fill="rgb(51,51,51)"/><ellipse cx="461.8" cy="145.4" rx="1.28" ry="2.07" fill="rgb(26,26,26)"/><ellipse cx="453.3" cy="134.1" rx="1.53" ry="2.17" fill="rgb(73,73,73)"/><ellipse cx="437.6" cy="124.4" rx="1.57" ry="1.62" fill="rgb(33,33,33)"/><ellipse cx="441.3" cy="139.2" rx="2.00" ry="1.05" fill="rgb(43,43,43)"/><ellipse cx="445.4" cy="117.8" rx="1.50" ry="2.13" fill="rgb(58,58,58)"/><ellipse cx="438.0" cy="131.5" rx="1.09" ry="1.02" fill="rgb(63,63,63)"/><ellipse cx="461.5" cy="141.1" rx="1.17" ry="1.42" fill="rgb(61,61,61)"/><ellipse cx="448.8" cy="142.2" rx="2.17" ry="1.29" fill="rgb(66,66,66)"/><ellipse cx="456.4" cy="129.6" rx="2.06" ry="2.39" fill="rgb(80,80,80)"/><ellipse cx="447.0" cy="128.1" rx="1.62" ry="1.12" fill="rgb(52,52,52)"/><ellipse cx="443.4" cy="123.8" rx="2.11" ry="1.53" fill="rgb(55,55,55)"/><ellipse cx="466.5" cy="142.2" rx="1.18" ry="1.62" fill="rgb(66,66,66)"/><ellipse cx="451.5" cy="116.1" rx="1.79" ry="2.14" fill="rgb(55,55,55)"/><ellipse cx="449.9" cy="133.2" rx="1.62" ry="1.15" fill="rgb(28,28,28)"/><ellipse cx="451.5" cy="116.2" rx="2.27" ry="1.92" fill="rgb(64,64,64)"/><ellipse cx="460.6" cy="119.9" rx="2.06" ry="1.70" fill="rgb(72,72,72)"/><ellipse cx="451.6" cy="123.8" rx="1.45" ry="1.54" fill="rgb(39,39,39)"/><ellipse cx="445.6" cy="131.0" rx="1.86" ry="2.27" fill="rgb(43,43,43)"/><ellipse cx="453.2" cy="113.7" rx="1.31" ry="1.41" fill="rgb(50,50,50)"/><ellipse cx="436.0" cy="126.5" rx="2.13" ry="2.04" fill="rgb(48,48,48)"/><ellipse cx="449.5" cy="141.4" rx="2.34" ry="2.10" fill="rgb(78,78,78)"/><ellipse cx="449.0" cy="148.8" rx="1.68" ry="1.53" fill="rgb(37,37,37)"/><ellipse cx="438.3" cy="122.7" rx="1.41" ry="1.86" fill="rgb(38,38,38)"/><ellipse cx="462.6" cy="118.9" rx="2.02" ry="2.15" fill="rgb(69,69,69)"/><ellipse cx="445.0" cy="125.0" rx="1.27" ry="2.15" fill="rgb(52,52,52)"/><ellipse cx="448.6" cy="131.7" rx="1.10" ry="2.03" fill="rgb(35,35,35)"/><ellipse cx="452.4" cy="144.2" rx="1.87" ry="2.15" fill="rgb(32,32,32)"/><ellipse cx="463.9" cy="131.2" rx="1.71" ry="1.39" fill="rgb(77,77,77)"/><ellipse cx="463.3" cy="124.1" rx="1.34" ry="1.35" fill="rgb(48,48,48)"/><ellipse cx="441.1" cy="131.6" rx="2.14" ry="1.84" fill="rgb(39,39,39)"/><ellipse cx="459.5" cy="121.9" rx="1.15" ry="1.16" fill="rgb(74,74,74)"/><ellipse cx="460.8" cy="136.0" rx="2.39" ry="2.29" fill="rgb(61,61,61)"/><ellipse cx="455.6" cy="125.2" rx="1.27" ry="1.37" fill="rgb(64,64,64)"/><ellipse cx="464.6" cy="139.3" rx="2.27" ry="2.30" fill="rgb(67,67,67)"/><ellipse cx="466.4" cy="140.1" rx="2.37" ry="1.09" fill="rgb(80,80,80)"/><ellipse cx="458.4" cy="115.2" rx="2.20" ry="1.92" fill="rgb(30,30,30)"/><ellipse cx="442.5" cy="144.9" rx="1.32" ry="1.05" fill="rgb(77,77,77)"/><ellipse cx="456.2" cy="123.3" rx="1.50" ry="1.46" fill="rgb(72,72,72)"/><ellipse cx="447.6" cy="131.2" rx="1.85" ry="1.61" fill="rgb(71,71,71)"/><ellipse cx="463.9" cy="147.0" rx="1.60" ry="2.10" fill="rgb(34,34,34)"/><ellipse cx="461.3" cy="137.3" rx="2.30" ry="1.47" fill="rgb(43,43,43)"/><ellipse cx="459.8" cy="149.5" rx="1.78" ry="2.03" fill="rgb(28,28,28)"/><ellipse cx="460.5" cy="119.3" rx="1.41" ry="1.34" fill="rgb(45,45,45)"/><ellipse cx="447.7" cy="132.0" rx="2.31" ry="2.40" fill="rgb(70,70,70)"/><ellipse cx="460.3" cy="129.1" rx="1.31" ry="1.24" fill="rgb(45,45,45)"/><ellipse cx="462.3" cy="141.5" rx="2.24" ry="1.82" fill="rgb(69,69,69)"/><ellipse cx="444.8" cy="124.0" rx="1.81" ry="2.26" fill="rgb(52,52,52)"/><ellipse cx="468.0" cy="124.6" rx="1.69" ry="1.51" fill="rgb(70,70,70)"/><ellipse cx="461.7" cy="120.5" rx="1.37" ry="2.32" fill="rgb(44,44,44)"/><ellipse cx="462.7" cy="116.9" rx="1.70" ry="2.36" fill="rgb(42,42,42)"/><ellipse cx="436.0" cy="128.1" rx="2.13" ry="1.80" fill="rgb(43,43,43)"/><ellipse cx="448.6" cy="136.4" rx="1.91" ry="1.17" fill="rgb(56,56,56)"/><ellipse cx="451.2" cy="134.2" rx="1.71" ry="1.41" fill="rgb(48,48,48)"/><ellipse cx="451.8" cy="134.2" rx="2.16" ry="1.02" fill="rgb(34,34,34)"/><ellipse cx="460.0" cy="120.8" rx="2.07" ry="2.18" fill="rgb(33,33,33)"/><ellipse cx="440.7" cy="126.3" rx="1.52" ry="1.70" fill="rgb(31,31,31)"/><ellipse cx="470.0" cy="130.8" rx="2.38" ry="1.50" fill="rgb(48,48,48)"/><ellipse cx="468.5" cy="127.0" rx="2.18" ry="1.90" fill="rgb(55,55,55)"/><ellipse cx="439.7" cy="134.1" rx="2.05" ry="1.60" fill="rgb(48,48,48)"/><ellipse cx="453.3" cy="116.5" rx="1.20" ry="1.99" fill="rgb(72,72,72)"/><ellipse cx="462.2" cy="125.3" rx="2.34" ry="1.71" fill="rgb(27,27,27)"/><ellipse cx="441.0" cy="133.3" rx="1.42" ry="1.91" fill="rgb(36,36,36)"/><ellipse cx="457.8" cy="115.6" rx="1.40" ry="1.96" fill="rgb(72,72,72)"/><ellipse cx="444.1" cy="134.9" rx="2.20" ry="1.63" fill="rgb(50,50,50)"/></g>
<g filter="url(#bl07)"><ellipse cx="437" cy="133" rx="1.5" ry="2.5" fill="#777"/><ellipse cx="439" cy="128" rx="1.2" ry="1.2" fill="#666"/><ellipse cx="457" cy="112" rx="2.5" ry="1.2" fill="#bbb"/></g>
<g filter="url(#bl07)"><ellipse cx="451.6" cy="164.9" rx="1.14" ry="1.78" fill="rgb(28,28,28)"/><ellipse cx="443.7" cy="168.5" rx="1.33" ry="2.12" fill="rgb(25,25,25)"/><ellipse cx="466.8" cy="179.1" rx="1.81" ry="1.49" fill="rgb(30,30,30)"/><ellipse cx="468.4" cy="156.3" rx="0.97" ry="1.07" fill="rgb(35,35,35)"/><ellipse cx="477.8" cy="189.6" rx="1.91" ry="1.40" fill="rgb(24,24,24)"/><ellipse cx="469.8" cy="154.1" rx="1.17" ry="1.19" fill="rgb(38,38,38)"/><ellipse cx="472.8" cy="185.6" rx="2.08" ry="1.42" fill="rgb(37,37,37)"/><ellipse cx="443.9" cy="151.7" rx="2.04" ry="0.97" fill="rgb(20,20,20)"/><ellipse cx="446.2" cy="169.7" rx="1.21" ry="1.86" fill="rgb(21,21,21)"/><ellipse cx="476.4" cy="188.6" rx="1.06" ry="1.65" fill="rgb(20,20,20)"/><ellipse cx="479.3" cy="158.1" rx="2.06" ry="1.07" fill="rgb(20,20,20)"/><ellipse cx="480.7" cy="170.0" rx="1.60" ry="1.16" fill="rgb(51,51,51)"/><ellipse cx="426.4" cy="157.7" rx="1.81" ry="1.09" fill="rgb(25,25,25)"/><ellipse cx="482.1" cy="178.8" rx="0.97" ry="1.62" fill="rgb(22,22,22)"/><ellipse cx="460.8" cy="156.0" rx="1.86" ry="1.65" fill="rgb(37,37,37)"/><ellipse cx="424.2" cy="184.7" rx="2.14" ry="1.21" fill="rgb(45,45,45)"/><ellipse cx="461.1" cy="151.7" rx="2.00" ry="1.58" fill="rgb(43,43,43)"/><ellipse cx="458.2" cy="177.5" rx="1.04" ry="2.05" fill="rgb(42,42,42)"/><ellipse cx="445.4" cy="158.4" rx="2.18" ry="1.65" fill="rgb(32,32,32)"/><ellipse cx="423.2" cy="182.0" rx="0.90" ry="1.05" fill="rgb(41,41,41)"/><ellipse cx="436.2" cy="160.8" rx="1.30" ry="1.27" fill="rgb(25,25,25)"/><ellipse cx="455.1" cy="152.2" rx="1.91" ry="1.95" fill="rgb(44,44,44)"/><ellipse cx="453.8" cy="178.4" rx="1.64" ry="0.99" fill="rgb(35,35,35)"/><ellipse cx="463.5" cy="153.8" rx="1.56" ry="2.14" fill="rgb(45,45,45)"/><ellipse cx="457.9" cy="155.6" rx="1.12" ry="2.00" fill="rgb(38,38,38)"/><ellipse cx="438.6" cy="152.0" rx="1.24" ry="1.11" fill="rgb(31,31,31)"/><ellipse cx="429.7" cy="155.9" rx="0.98" ry="1.17" fill="rgb(23,23,23)"/><ellipse cx="446.9" cy="174.5" rx="1.27" ry="1.53" fill="rgb(42,42,42)"/><ellipse cx="439.8" cy="188.5" rx="1.28" ry="1.05" fill="rgb(55,55,55)"/><ellipse cx="448.9" cy="155.7" rx="1.89" ry="1.40" fill="rgb(55,55,55)"/></g>
<g filter="url(#bl1)"><line x1="414" y1="36" x2="428" y2="58" stroke="#1e1e1e" stroke-width="2.4"/><line x1="493" y1="38" x2="480" y2="58" stroke="#1e1e1e" stroke-width="2.4"/></g>
<path d="M439.8,31 L465,31 L465,36 Q465,45.5 452.5,46.5 Q440.5,45.5 439.8,37 Z" fill="#c4c4c4" filter="url(#bl05)"/>
<g filter="url(#bl07)"><ellipse cx="454.0" cy="37.1" rx="1.02" ry="1.56" fill="rgb(238,238,238)"/><ellipse cx="452.3" cy="35.3" rx="1.04" ry="1.59" fill="rgb(185,185,185)"/><ellipse cx="443.6" cy="43.4" rx="1.05" ry="2.03" fill="rgb(211,211,211)"/><ellipse cx="454.7" cy="36.6" rx="1.99" ry="1.31" fill="rgb(201,201,201)"/><ellipse cx="445.7" cy="35.6" rx="1.16" ry="1.92" fill="rgb(211,211,211)"/><ellipse cx="462.6" cy="43.6" rx="1.05" ry="1.00" fill="rgb(213,213,213)"/><ellipse cx="444.8" cy="43.3" rx="1.64" ry="1.93" fill="rgb(203,203,203)"/><ellipse cx="447.0" cy="40.0" rx="1.52" ry="1.08" fill="rgb(222,222,222)"/><ellipse cx="454.3" cy="42.1" rx="2.01" ry="2.16" fill="rgb(185,185,185)"/><ellipse cx="447.0" cy="32.4" rx="1.98" ry="1.79" fill="rgb(203,203,203)"/><ellipse cx="453.2" cy="42.3" rx="1.46" ry="2.13" fill="rgb(184,184,184)"/><ellipse cx="461.2" cy="33.8" rx="1.53" ry="2.18" fill="rgb(177,177,177)"/><ellipse cx="446.0" cy="36.2" rx="1.53" ry="1.82" fill="rgb(218,218,218)"/><ellipse cx="445.0" cy="38.3" rx="1.32" ry="1.36" fill="rgb(180,180,180)"/><ellipse cx="455.9" cy="43.3" rx="1.93" ry="1.58" fill="rgb(187,187,187)"/><ellipse cx="449.3" cy="37.2" rx="1.65" ry="1.05" fill="rgb(165,165,165)"/><ellipse cx="460.8" cy="34.9" rx="1.54" ry="1.70" fill="rgb(198,198,198)"/><ellipse cx="450.2" cy="42.4" rx="1.88" ry="2.19" fill="rgb(195,195,195)"/><ellipse cx="447.7" cy="37.8" rx="1.08" ry="1.59" fill="rgb(228,228,228)"/><ellipse cx="451.7" cy="36.8" rx="1.65" ry="1.42" fill="rgb(218,218,218)"/><ellipse cx="450.1" cy="40.4" rx="1.53" ry="2.16" fill="rgb(236,236,236)"/><ellipse cx="450.7" cy="32.4" rx="1.53" ry="1.08" fill="rgb(165,165,165)"/></g>
<circle cx="459.3" cy="103.2" r="6.4" fill="#f2f2f2" filter="url(#bl05)"/>
<path d="M440.8,164.5 Q446,161.5 452,163 Q458,161 463.5,163.5 Q465,170 460.5,174.5 Q451,177.5 444,176 Q440,171 440.8,164.5 Z" fill="#fff" filter="url(#bl05)"/>
<ellipse cx="429.8" cy="69.9" rx="13.7" ry="9.9" fill="none" stroke="#a41d48" stroke-width="1.6"/>
<ellipse cx="475.5" cy="71.6" rx="13.7" ry="10.3" fill="none" stroke="#a41d48" stroke-width="1.6"/>
<ellipse cx="453.9" cy="132" rx="21.5" ry="22" fill="none" stroke="#a41d48" stroke-width="1.6"/>
<text x="498.3" y="189.4" font-size="4.3" text-anchor="end" fill="#d0d0d0">2nd Cycle of Therapy</text>
</g>
<text x="5.40" y="306.80" font-size="12.2" text-anchor="start" stroke="#000" stroke-width="0.15" font-weight="bold" fill="#000" textLength="8.0" lengthAdjust="spacingAndGlyphs">B</text>
<line x1="40.00" y1="317.40" x2="43.70" y2="317.40" stroke="#111" stroke-width="1" />
<text x="37.00" y="320.10" font-size="8.4" text-anchor="end" stroke="#1c1c1c" stroke-width="0.15" fill="#1c1c1c" textLength="15.6" lengthAdjust="spacingAndGlyphs">RS3</text>
<rect x="43.70" y="311.75" width="31.70" height="11.30" fill="#d7e5f5" stroke="#1a1a1a" stroke-width="1.1"/>
<line x1="40.00" y1="339.65" x2="43.70" y2="339.65" stroke="#111" stroke-width="1" />
<text x="37.00" y="342.35" font-size="8.4" text-anchor="end" stroke="#1c1c1c" stroke-width="0.15" fill="#1c1c1c" textLength="15.6" lengthAdjust="spacingAndGlyphs">RS4</text>
<rect x="43.70" y="334.00" width="34.20" height="11.30" fill="#d7e5f5" stroke="#1a1a1a" stroke-width="1.1"/>
<line x1="40.00" y1="361.90" x2="43.70" y2="361.90" stroke="#111" stroke-width="1" />
<text x="37.00" y="364.60" font-size="8.4" text-anchor="end" stroke="#1c1c1c" stroke-width="0.15" fill="#1c1c1c" textLength="15.6" lengthAdjust="spacingAndGlyphs">RS9</text>
<rect x="43.70" y="356.25" width="34.50" height="11.30" fill="#d7e5f5" stroke="#1a1a1a" stroke-width="1.1"/>
<line x1="40.00" y1="384.15" x2="43.70" y2="384.15" stroke="#111" stroke-width="1" />
<text x="37.00" y="386.85" font-size="8.4" text-anchor="end" stroke="#1c1c1c" stroke-width="0.15" fill="#1c1c1c" textLength="15.6" lengthAdjust="spacingAndGlyphs">RS8</text>
<rect x="43.70" y="378.50" width="37.60" height="11.30" fill="#d7e5f5" stroke="#1a1a1a" stroke-width="1.1"/>
<line x1="40.00" y1="406.40" x2="43.70" y2="406.40" stroke="#111" stroke-width="1" />
<text x="37.00" y="409.10" font-size="8.4" text-anchor="end" stroke="#1c1c1c" stroke-width="0.15" fill="#1c1c1c" textLength="15.6" lengthAdjust="spacingAndGlyphs">RS5</text>
<rect x="43.70" y="400.75" width="38.30" height="11.30" fill="#d7e5f5" stroke="#1a1a1a" stroke-width="1.1"/>
<line x1="40.00" y1="428.65" x2="43.70" y2="428.65" stroke="#111" stroke-width="1" />
<text x="37.00" y="431.35" font-size="8.4" text-anchor="end" stroke="#1c1c1c" stroke-width="0.15" fill="#1c1c1c" textLength="15.6" lengthAdjust="spacingAndGlyphs">RS6</text>
<rect x="43.70" y="423.00" width="48.80" height="11.30" fill="#d7e5f5" stroke="#1a1a1a" stroke-width="1.1"/>
<line x1="40.00" y1="450.90" x2="43.70" y2="450.90" stroke="#111" stroke-width="1" />
<text x="37.00" y="453.60" font-size="8.4" text-anchor="end" stroke="#1c1c1c" stroke-width="0.15" fill="#1c1c1c" textLength="15.6" lengthAdjust="spacingAndGlyphs">RS7</text>
<rect x="43.70" y="445.25" width="68.00" height="11.30" fill="#d7e5f5" stroke="#1a1a1a" stroke-width="1.1"/>
<line x1="40.00" y1="473.15" x2="43.70" y2="473.15" stroke="#111" stroke-width="1" />
<text x="37.00" y="475.85" font-size="8.4" text-anchor="end" stroke="#1c1c1c" stroke-width="0.15" fill="#1c1c1c" textLength="15.6" lengthAdjust="spacingAndGlyphs">RS2</text>
<path d="M120.20,469.25 L198.50,469.25 L198.50,467.25 L208.00,473.15 L198.50,479.05 L198.50,477.05 L120.20,477.05" fill="#f2f6fc" stroke="#2a2a2a" stroke-width="1"/>
<line x1="120.70" y1="473.15" x2="200.50" y2="473.15" stroke="#1a1a1a" stroke-width="1.1" stroke-dasharray="2,1.2"/>
<rect x="43.70" y="467.50" width="77.00" height="11.30" fill="#d7e5f5" stroke="#1a1a1a" stroke-width="1.1"/>
<line x1="40.00" y1="495.40" x2="43.70" y2="495.40" stroke="#111" stroke-width="1" />
<text x="37.00" y="498.10" font-size="8.4" text-anchor="end" stroke="#1c1c1c" stroke-width="0.15" fill="#1c1c1c" textLength="15.6" lengthAdjust="spacingAndGlyphs">RS1</text>
<path d="M205.90,491.50 L246.20,491.50 L246.20,489.50 L255.70,495.40 L246.20,501.30 L246.20,499.30 L205.90,499.30" fill="#f2f6fc" stroke="#2a2a2a" stroke-width="1"/>
<line x1="206.40" y1="495.40" x2="248.20" y2="495.40" stroke="#1a1a1a" stroke-width="1.1" stroke-dasharray="2,1.2"/>
<rect x="43.70" y="489.75" width="162.70" height="11.30" fill="#d7e5f5" stroke="#1a1a1a" stroke-width="1.1"/>
<line x1="75.40" y1="317.40" x2="228.80" y2="317.40" stroke="#1a1a1a" stroke-width="1.1" stroke-dasharray="2,1.2"/>
<circle cx="73.10" cy="317.40" r="1.5" fill="#fff" stroke="#8a1a40" stroke-width="1.1"/>
<line x1="226.90" y1="317.40" x2="230.70" y2="317.40" stroke="#1a1a1a" stroke-width="1.1" />
<line x1="228.80" y1="315.50" x2="228.80" y2="319.30" stroke="#1a1a1a" stroke-width="1.1" />
<line x1="77.90" y1="339.65" x2="94.50" y2="339.65" stroke="#1a1a1a" stroke-width="1.1" stroke-dasharray="2,1.2"/>
<circle cx="94.50" cy="339.65" r="1.7" fill="#6b0f2e"/>
<line x1="97.20" y1="339.65" x2="101.00" y2="339.65" stroke="#555" stroke-width="1.1" />
<line x1="99.10" y1="337.75" x2="99.10" y2="341.55" stroke="#555" stroke-width="1.1" />
<path d="M50.00,363.47 L54.20,363.47 L52.10,360.11 Z" fill="#1f2a55"/>
<circle cx="78.10" cy="361.90" r="1.7" fill="#6b0f2e"/>
<line x1="76.10" y1="361.90" x2="80.10" y2="361.90" stroke="#1a1a1a" stroke-width="1.1" />
<line x1="78.10" y1="359.90" x2="78.10" y2="363.90" stroke="#1a1a1a" stroke-width="1.1" />
<line x1="81.30" y1="384.15" x2="102.00" y2="384.15" stroke="#1a1a1a" stroke-width="1.1" stroke-dasharray="2,1.2"/>
<circle cx="78.10" cy="384.15" r="1.5" fill="#6b0f2e"/>
<line x1="100.10" y1="384.15" x2="103.90" y2="384.15" stroke="#1a1a1a" stroke-width="1.1" />
<line x1="102.00" y1="382.25" x2="102.00" y2="386.05" stroke="#1a1a1a" stroke-width="1.1" />
<line x1="82.00" y1="406.40" x2="139.40" y2="406.40" stroke="#1a1a1a" stroke-width="1.1" stroke-dasharray="2,1.2"/>
<circle cx="82.00" cy="406.40" r="1.7" fill="#6b0f2e"/>
<line x1="80.10" y1="406.40" x2="83.90" y2="406.40" stroke="#1a1a1a" stroke-width="1.1" />
<line x1="82.00" y1="404.50" x2="82.00" y2="408.30" stroke="#1a1a1a" stroke-width="1.1" />
<line x1="137.50" y1="406.40" x2="141.30" y2="406.40" stroke="#7b2048" stroke-width="1.1" />
<line x1="139.40" y1="404.50" x2="139.40" y2="408.30" stroke="#7b2048" stroke-width="1.1" />
<path d="M69.30,430.15 L73.30,430.15 L71.30,426.95 Z" fill="#8fb2d6"/>
<line x1="92.50" y1="428.65" x2="111.90" y2="428.65" stroke="#1a1a1a" stroke-width="1.1" stroke-dasharray="2,1.2"/>
<circle cx="92.40" cy="428.65" r="1.7" fill="#6b0f2e"/>
<line x1="90.50" y1="428.65" x2="94.30" y2="428.65" stroke="#1a1a1a" stroke-width="1.1" />
<line x1="92.40" y1="426.75" x2="92.40" y2="430.55" stroke="#1a1a1a" stroke-width="1.1" />
<line x1="110.00" y1="428.65" x2="113.80" y2="428.65" stroke="#7b2048" stroke-width="1.1" />
<line x1="111.90" y1="426.75" x2="111.90" y2="430.55" stroke="#7b2048" stroke-width="1.1" />
<line x1="111.70" y1="450.90" x2="178.90" y2="450.90" stroke="#1a1a1a" stroke-width="1.1" stroke-dasharray="2,1.2"/>
<circle cx="114.40" cy="450.90" r="1.5" fill="#fff" stroke="#8a1a40" stroke-width="1.1"/>
<line x1="177.00" y1="450.90" x2="180.80" y2="450.90" stroke="#7b2048" stroke-width="1.1" />
<line x1="178.90" y1="449.00" x2="178.90" y2="452.80" stroke="#7b2048" stroke-width="1.1" />
<path d="M58.60,474.65 L62.60,474.65 L60.60,471.45 Z" fill="#8fb2d6"/>
<circle cx="198.80" cy="473.15" r="1.7" fill="#1a1a1a"/>
<circle cx="59.20" cy="495.40" r="1.2" fill="#1f2a55"/>
<circle cx="197.20" cy="495.40" r="1.6" fill="#8a1a40"/>
<line x1="43.70" y1="308.80" x2="43.70" y2="509.00" stroke="#111" stroke-width="1.1" />
<line x1="43.70" y1="508.50" x2="271.30" y2="508.50" stroke="#111" stroke-width="1.1" />
<line x1="43.70" y1="508.50" x2="43.70" y2="511.50" stroke="#111" stroke-width="1" />
<text x="43.70" y="522.00" font-size="8.0" text-anchor="middle" stroke="#1c1c1c" stroke-width="0.15" fill="#1c1c1c">0</text>
<line x1="119.00" y1="508.50" x2="119.00" y2="511.50" stroke="#111" stroke-width="1" />
<text x="119.00" y="522.00" font-size="8.0" text-anchor="middle" stroke="#1c1c1c" stroke-width="0.15" fill="#1c1c1c">6</text>
<line x1="194.30" y1="508.50" x2="194.30" y2="511.50" stroke="#111" stroke-width="1" />
<text x="194.30" y="522.00" font-size="8.0" text-anchor="middle" stroke="#1c1c1c" stroke-width="0.15" fill="#1c1c1c">12</text>
<line x1="269.60" y1="508.50" x2="269.60" y2="511.50" stroke="#111" stroke-width="1" />
<text x="269.60" y="522.00" font-size="8.0" text-anchor="middle" stroke="#1c1c1c" stroke-width="0.15" fill="#1c1c1c">18</text>
<text x="97.00" y="535.60" font-size="9.9" text-anchor="start" stroke="#1c1c1c" stroke-width="0.15" fill="#1c1c1c" textLength="122.6" lengthAdjust="spacingAndGlyphs">Duration of treatment (months)</text>
<text x="0" y="0" transform="translate(15.20,409.70) rotate(-90)" font-size="9.9" text-anchor="middle" stroke="#1c1c1c" stroke-width="0.15" fill="#1c1c1c" textLength="58.9" lengthAdjust="spacingAndGlyphs">Patient number</text>
<text x="190.40" y="343.30" font-size="7.9" text-anchor="start" stroke="#1c1c1c" stroke-width="0.12" fill="#1c1c1c" textLength="76.19" lengthAdjust="spacingAndGlyphs">Progression (uPD/PD)</text>
<text x="190.40" y="354.70" font-size="7.9" text-anchor="start" stroke="#1c1c1c" stroke-width="0.12" fill="#1c1c1c" textLength="59.5" lengthAdjust="spacingAndGlyphs">Progression-Free</text>
<text x="190.40" y="366.10" font-size="7.9" text-anchor="start" stroke="#1c1c1c" stroke-width="0.12" fill="#1c1c1c" textLength="20.55" lengthAdjust="spacingAndGlyphs">Death</text>
<text x="190.40" y="377.70" font-size="7.9" text-anchor="start" stroke="#1c1c1c" stroke-width="0.12" fill="#1c1c1c" textLength="16.7" lengthAdjust="spacingAndGlyphs">Alive</text>
<text x="190.40" y="389.40" font-size="7.9" text-anchor="start" stroke="#1c1c1c" stroke-width="0.12" fill="#1c1c1c" textLength="38.23" lengthAdjust="spacingAndGlyphs">Time to PR</text>
<text x="190.40" y="400.90" font-size="7.9" text-anchor="start" stroke="#1c1c1c" stroke-width="0.12" fill="#1c1c1c" textLength="44.65" lengthAdjust="spacingAndGlyphs">Time to PMR</text>
<text x="190.40" y="412.50" font-size="7.9" text-anchor="start" stroke="#1c1c1c" stroke-width="0.12" fill="#1c1c1c" textLength="38.66" lengthAdjust="spacingAndGlyphs">Time to CR</text>
<text x="190.40" y="423.70" font-size="7.9" text-anchor="start" stroke="#1c1c1c" stroke-width="0.12" fill="#1c1c1c" textLength="67.23" lengthAdjust="spacingAndGlyphs">Continuation Phase</text>
<circle cx="184.20" cy="340.60" r="1.5" fill="#6b0f2e"/>
<circle cx="184.20" cy="352.00" r="1.5" fill="#fff" stroke="#8a1a40" stroke-width="1.1"/>
<line x1="182.30" y1="363.40" x2="186.10" y2="363.40" stroke="#7b2048" stroke-width="1.1" />
<line x1="184.20" y1="361.50" x2="184.20" y2="365.30" stroke="#7b2048" stroke-width="1.1" />
<line x1="182.30" y1="375.00" x2="186.10" y2="375.00" stroke="#1a1a1a" stroke-width="1.1" />
<line x1="184.20" y1="373.10" x2="184.20" y2="376.90" stroke="#1a1a1a" stroke-width="1.1" />
<path d="M182.20,388.20 L186.20,388.20 L184.20,385.00 Z" fill="#8eaecc"/>
<path d="M182.10,399.77 L186.30,399.77 L184.20,396.41 Z" fill="#2a2050"/>
<circle cx="184.20" cy="409.80" r="1.1" fill="#1a1a1a"/>
<path d="M178.6,419.00 L183.8,419.00 L183.8,417.00 L187.8,421.00 L183.8,425.00 L183.8,423.00 L178.6,423.00 Z" fill="#fff" stroke="#1a1a1a" stroke-width="1.1"/>
<text x="300.60" y="307.00" font-size="11.6" text-anchor="start" stroke="#000" stroke-width="0.15" font-weight="bold" fill="#000">D</text>
<text x="313.00" y="325.50" font-size="7.8" text-anchor="start" fill="#1c1c1c" textLength="47.5" lengthAdjust="spacingAndGlyphs">BM CLL: <tspan fill="#a03a60">50%</tspan></text>
<text x="425.00" y="326.00" font-size="7.8" text-anchor="start" fill="#a03a60" textLength="16" lengthAdjust="spacingAndGlyphs">90%</text>
<text x="326.80" y="339.30" font-size="7.8" text-anchor="start" fill="#1c1c1c" textLength="26.2" lengthAdjust="spacingAndGlyphs">Pembro</text>
<path d="M356.30,335.60 L380.00,335.60 L380.00,332.80 L387.30,336.70 L380.00,340.60 L380.00,337.80 L356.30,337.80 Z" fill="#000"/>
<path d="M398.30,342.60 L399.20,337.40 Q399.80,335.20 401.30,334.40 L403.30,334.30 Q402.90,335.80 401.50,338.20 Z" fill="#111"/>
<path d="M400.10,338.60 L401.00,336.30 L401.80,335.70 L400.80,338.00 Z" fill="#666"/>
<path d="M430.80,335.50 L454.70,335.50 L454.70,332.70 L462.00,336.60 L454.70,340.50 L454.70,337.70 L430.80,337.70 Z" fill="#000"/>
<text x="420.20" y="352.90" font-size="7.8" text-anchor="start" fill="#1c1c1c" textLength="29.4" lengthAdjust="spacingAndGlyphs">idelalisib</text>
<line x1="452.30" y1="350.40" x2="460.60" y2="350.40" stroke="#111" stroke-width="1.2" stroke-dasharray="3.0,2.3"/>
<path d="M464.80,348.20 L470.20,350.40 L464.80,352.60 L465.90,350.40 Z" fill="#111"/>
<path d="M432.10,357.30 L434.50,357.30 L434.50,374.50 L437.50,374.50 L433.30,381.50 L429.10,374.50 L432.10,374.50 Z" fill="#6aa4d2"/>
<line x1="329.70" y1="347.40" x2="329.70" y2="416.40" stroke="#111" stroke-width="1.1" />
<line x1="329.70" y1="415.90" x2="495.00" y2="415.90" stroke="#111" stroke-width="1.1" />
<line x1="326.50" y1="415.90" x2="329.70" y2="415.90" stroke="#111" stroke-width="1" />
<text x="323.10" y="418.50" font-size="7.7" text-anchor="end" fill="#1c1c1c" textLength="4.06" lengthAdjust="spacingAndGlyphs">0</text>
<line x1="326.50" y1="404.95" x2="329.70" y2="404.95" stroke="#111" stroke-width="1" />
<text x="323.10" y="407.55" font-size="7.7" text-anchor="end" fill="#1c1c1c" textLength="8.12" lengthAdjust="spacingAndGlyphs">10</text>
<line x1="326.50" y1="394.00" x2="329.70" y2="394.00" stroke="#111" stroke-width="1" />
<text x="323.10" y="396.60" font-size="7.7" text-anchor="end" fill="#1c1c1c" textLength="8.12" lengthAdjust="spacingAndGlyphs">20</text>
<line x1="326.50" y1="383.05" x2="329.70" y2="383.05" stroke="#111" stroke-width="1" />
<text x="323.10" y="385.65" font-size="7.7" text-anchor="end" fill="#1c1c1c" textLength="8.12" lengthAdjust="spacingAndGlyphs">30</text>
<line x1="326.50" y1="372.10" x2="329.70" y2="372.10" stroke="#111" stroke-width="1" />
<text x="323.10" y="374.70" font-size="7.7" text-anchor="end" fill="#1c1c1c" textLength="8.12" lengthAdjust="spacingAndGlyphs">40</text>
<line x1="326.50" y1="361.15" x2="329.70" y2="361.15" stroke="#111" stroke-width="1" />
<text x="323.10" y="363.75" font-size="7.7" text-anchor="end" fill="#1c1c1c" textLength="8.12" lengthAdjust="spacingAndGlyphs">50</text>
<line x1="326.50" y1="350.20" x2="329.70" y2="350.20" stroke="#111" stroke-width="1" />
<text x="323.10" y="352.80" font-size="7.7" text-anchor="end" fill="#1c1c1c" textLength="8.12" lengthAdjust="spacingAndGlyphs">60</text>
<line x1="344.48" y1="415.90" x2="344.48" y2="418.70" stroke="#111" stroke-width="1" />
<line x1="359.26" y1="415.90" x2="359.26" y2="418.70" stroke="#111" stroke-width="1" />
<line x1="374.04" y1="415.90" x2="374.04" y2="418.70" stroke="#111" stroke-width="1" />
<line x1="388.82" y1="415.90" x2="388.82" y2="418.70" stroke="#111" stroke-width="1" />
<line x1="403.60" y1="415.90" x2="403.60" y2="418.70" stroke="#111" stroke-width="1" />
<line x1="418.38" y1="415.90" x2="418.38" y2="418.70" stroke="#111" stroke-width="1" />
<line x1="433.16" y1="415.90" x2="433.16" y2="418.70" stroke="#111" stroke-width="1" />
<line x1="447.94" y1="415.90" x2="447.94" y2="418.70" stroke="#111" stroke-width="1" />
<line x1="462.72" y1="415.90" x2="462.72" y2="418.70" stroke="#111" stroke-width="1" />
<line x1="477.50" y1="415.90" x2="477.50" y2="418.70" stroke="#111" stroke-width="1" />
<line x1="492.28" y1="415.90" x2="492.28" y2="418.70" stroke="#111" stroke-width="1" />
<polyline points="337.30,363.34 352.08,387.43 366.86,407.14 381.64,406.04 396.42,406.04 411.20,396.19 425.98,396.19 440.76,413.71 455.54,415.90 470.32,415.90 485.10,415.90" fill="none" stroke="#25355a" stroke-width="1.8"/>
<path d="M337.30,360.74 L339.90,363.34 L337.30,365.94 L334.70,363.34 Z" fill="#fff" stroke="#0e1222" stroke-width="1.4"/>
<path d="M352.08,384.83 L354.68,387.43 L352.08,390.03 L349.48,387.43 Z" fill="#fff" stroke="#0e1222" stroke-width="1.4"/>
<path d="M366.86,404.54 L369.46,407.14 L366.86,409.74 L364.26,407.14 Z" fill="#fff" stroke="#0e1222" stroke-width="1.4"/>
<path d="M381.64,403.44 L384.24,406.04 L381.64,408.64 L379.04,406.04 Z" fill="#fff" stroke="#0e1222" stroke-width="1.4"/>
<path d="M396.42,403.44 L399.02,406.04 L396.42,408.64 L393.82,406.04 Z" fill="#fff" stroke="#0e1222" stroke-width="1.4"/>
<path d="M411.20,393.59 L413.80,396.19 L411.20,398.79 L408.60,396.19 Z" fill="#fff" stroke="#0e1222" stroke-width="1.4"/>
<path d="M425.98,393.59 L428.58,396.19 L425.98,398.79 L423.38,396.19 Z" fill="#fff" stroke="#0e1222" stroke-width="1.4"/>
<path d="M440.76,411.11 L443.36,413.71 L440.76,416.31 L438.16,413.71 Z" fill="#fff" stroke="#0e1222" stroke-width="1.4"/>
<path d="M455.54,413.30 L458.14,415.90 L455.54,418.50 L452.94,415.90 Z" fill="#fff" stroke="#0e1222" stroke-width="1.4"/>
<path d="M470.32,413.30 L472.92,415.90 L470.32,418.50 L467.72,415.90 Z" fill="#fff" stroke="#0e1222" stroke-width="1.4"/>
<path d="M485.10,413.30 L487.70,415.90 L485.10,418.50 L482.50,415.90 Z" fill="#fff" stroke="#0e1222" stroke-width="1.4"/>
<text x="0" y="0" transform="translate(308.60,380.90) rotate(-90)" font-size="9.6" text-anchor="middle" fill="#1c1c1c" textLength="76.2" lengthAdjust="spacingAndGlyphs">Tumor volume(cm<tspan font-size="6" dy="-3.5">2</tspan><tspan dy="3.5">)</tspan></text>
<text x="326.50" y="436.60" font-size="7.8" text-anchor="start" fill="#1c1c1c" textLength="26.2" lengthAdjust="spacingAndGlyphs">Pembro</text>
<path d="M356.20,433.20 L380.70,433.20 L380.70,430.40 L388.00,434.30 L380.70,438.20 L380.70,435.40 L356.20,435.40 Z" fill="#000"/>
<path d="M397.50,439.70 L398.40,434.50 Q399.00,432.30 400.50,431.50 L402.50,431.40 Q402.10,432.90 400.70,435.30 Z" fill="#111"/>
<path d="M399.30,435.70 L400.20,433.40 L401.00,432.80 L400.00,435.10 Z" fill="#666"/>
<path d="M431.00,433.90 L455.40,433.90 L455.40,431.10 L462.70,435.00 L455.40,438.90 L455.40,436.10 L431.00,436.10 Z" fill="#000"/>
<text x="428.80" y="451.20" font-size="7.8" text-anchor="start" fill="#1c1c1c" textLength="30.4" lengthAdjust="spacingAndGlyphs">idelalisib</text>
<line x1="461.00" y1="448.60" x2="469.30" y2="448.60" stroke="#111" stroke-width="1.2" stroke-dasharray="3.0,2.3"/>
<path d="M474.10,446.40 L479.50,448.60 L474.10,450.80 L475.20,448.60 Z" fill="#111"/>
<path d="M436.20,456.20 L438.60,456.20 L438.60,472.20 L441.60,472.20 L437.40,479.20 L433.20,472.20 L436.20,472.20 Z" fill="#6aa4d2"/>
<line x1="329.70" y1="448.00" x2="329.70" y2="508.90" stroke="#111" stroke-width="1.1" />
<line x1="329.70" y1="508.40" x2="496.90" y2="508.40" stroke="#111" stroke-width="1.1" />
<line x1="326.50" y1="508.40" x2="329.70" y2="508.40" stroke="#111" stroke-width="1" />
<text x="323.10" y="511.00" font-size="7.7" text-anchor="end" fill="#1c1c1c" textLength="4.06" lengthAdjust="spacingAndGlyphs">0</text>
<line x1="326.50" y1="498.55" x2="329.70" y2="498.55" stroke="#111" stroke-width="1" />
<text x="323.10" y="501.15" font-size="7.7" text-anchor="end" fill="#1c1c1c" textLength="8.12" lengthAdjust="spacingAndGlyphs">20</text>
<line x1="326.50" y1="488.70" x2="329.70" y2="488.70" stroke="#111" stroke-width="1" />
<text x="323.10" y="491.30" font-size="7.7" text-anchor="end" fill="#1c1c1c" textLength="8.12" lengthAdjust="spacingAndGlyphs">40</text>
<line x1="326.50" y1="478.85" x2="329.70" y2="478.85" stroke="#111" stroke-width="1" />
<text x="323.10" y="481.45" font-size="7.7" text-anchor="end" fill="#1c1c1c" textLength="8.12" lengthAdjust="spacingAndGlyphs">60</text>
<line x1="326.50" y1="469.00" x2="329.70" y2="469.00" stroke="#111" stroke-width="1" />
<text x="323.10" y="471.60" font-size="7.7" text-anchor="end" fill="#1c1c1c" textLength="8.12" lengthAdjust="spacingAndGlyphs">80</text>
<line x1="326.50" y1="459.15" x2="329.70" y2="459.15" stroke="#111" stroke-width="1" />
<text x="323.10" y="461.75" font-size="7.7" text-anchor="end" fill="#1c1c1c" textLength="12.18" lengthAdjust="spacingAndGlyphs">100</text>
<line x1="326.50" y1="449.30" x2="329.70" y2="449.30" stroke="#111" stroke-width="1" />
<text x="323.10" y="451.90" font-size="7.7" text-anchor="end" fill="#1c1c1c" textLength="12.18" lengthAdjust="spacingAndGlyphs">120</text>
<line x1="344.66" y1="508.40" x2="344.66" y2="511.20" stroke="#111" stroke-width="1" />
<line x1="359.62" y1="508.40" x2="359.62" y2="511.20" stroke="#111" stroke-width="1" />
<line x1="374.58" y1="508.40" x2="374.58" y2="511.20" stroke="#111" stroke-width="1" />
<line x1="389.54" y1="508.40" x2="389.54" y2="511.20" stroke="#111" stroke-width="1" />
<line x1="404.50" y1="508.40" x2="404.50" y2="511.20" stroke="#111" stroke-width="1" />
<line x1="419.46" y1="508.40" x2="419.46" y2="511.20" stroke="#111" stroke-width="1" />
<line x1="434.42" y1="508.40" x2="434.42" y2="511.20" stroke="#111" stroke-width="1" />
<line x1="449.38" y1="508.40" x2="449.38" y2="511.20" stroke="#111" stroke-width="1" />
<line x1="464.34" y1="508.40" x2="464.34" y2="511.20" stroke="#111" stroke-width="1" />
<line x1="479.30" y1="508.40" x2="479.30" y2="511.20" stroke="#111" stroke-width="1" />
<line x1="494.26" y1="508.40" x2="494.26" y2="511.20" stroke="#111" stroke-width="1" />
<polyline points="337.30,472.20 352.26,467.52 367.22,469.69 382.18,482.79 397.14,488.11 412.10,478.85 427.06,488.21 442.02,485.25 456.98,459.15 471.94,460.13 486.90,460.13" fill="none" stroke="#861233" stroke-width="1.8"/>
<circle cx="337.30" cy="472.20" r="1.55" fill="#fff" stroke="#7a0f2e" stroke-width="1.3"/>
<circle cx="352.26" cy="467.52" r="1.55" fill="#fff" stroke="#7a0f2e" stroke-width="1.3"/>
<circle cx="367.22" cy="469.69" r="1.55" fill="#fff" stroke="#7a0f2e" stroke-width="1.3"/>
<circle cx="382.18" cy="482.79" r="1.55" fill="#fff" stroke="#7a0f2e" stroke-width="1.3"/>
<circle cx="397.14" cy="488.11" r="1.55" fill="#fff" stroke="#7a0f2e" stroke-width="1.3"/>
<circle cx="412.10" cy="478.85" r="1.55" fill="#fff" stroke="#7a0f2e" stroke-width="1.3"/>
<circle cx="427.06" cy="488.21" r="1.55" fill="#fff" stroke="#7a0f2e" stroke-width="1.3"/>
<circle cx="442.02" cy="485.25" r="1.55" fill="#fff" stroke="#7a0f2e" stroke-width="1.3"/>
<circle cx="456.98" cy="459.15" r="1.55" fill="#fff" stroke="#7a0f2e" stroke-width="1.3"/>
<circle cx="471.94" cy="460.13" r="1.55" fill="#fff" stroke="#7a0f2e" stroke-width="1.3"/>
<circle cx="486.90" cy="460.13" r="1.55" fill="#fff" stroke="#7a0f2e" stroke-width="1.3"/>
<text x="0" y="0" transform="translate(302.50,476.40) rotate(-90)" font-size="9.6" text-anchor="middle" fill="#1c1c1c" textLength="64.4" lengthAdjust="spacingAndGlyphs">Platelet (x10<tspan font-size="6" dy="-3.5">9</tspan><tspan dy="3.5">/L)</tspan></text>
<text x="0" y="0" transform="translate(338.70,520.00) rotate(-45)" font-size="8.1" text-anchor="end" stroke="#1c1c1c" stroke-width="0.05" fill="#1c1c1c">Jun-15</text>
<text x="0" y="0" transform="translate(353.66,520.00) rotate(-45)" font-size="8.1" text-anchor="end" stroke="#1c1c1c" stroke-width="0.05" fill="#1c1c1c">Jul-15</text>
<text x="0" y="0" transform="translate(368.62,520.00) rotate(-45)" font-size="8.1" text-anchor="end" stroke="#1c1c1c" stroke-width="0.05" fill="#1c1c1c">Aug-15</text>
<text x="0" y="0" transform="translate(383.58,520.00) rotate(-45)" font-size="8.1" text-anchor="end" stroke="#1c1c1c" stroke-width="0.05" fill="#1c1c1c">Sep-15</text>
<text x="0" y="0" transform="translate(398.54,520.00) rotate(-45)" font-size="8.1" text-anchor="end" stroke="#1c1c1c" stroke-width="0.05" fill="#1c1c1c">Oct-15</text>
<text x="0" y="0" transform="translate(413.50,520.00) rotate(-45)" font-size="8.1" text-anchor="end" stroke="#1c1c1c" stroke-width="0.05" fill="#1c1c1c">Nov-15</text>
<text x="0" y="0" transform="translate(428.46,520.00) rotate(-45)" font-size="8.1" text-anchor="end" stroke="#1c1c1c" stroke-width="0.05" fill="#1c1c1c">Dec-15</text>
<text x="0" y="0" transform="translate(443.42,520.00) rotate(-45)" font-size="8.1" text-anchor="end" stroke="#1c1c1c" stroke-width="0.05" fill="#1c1c1c">Jan-16</text>
<text x="0" y="0" transform="translate(458.38,520.00) rotate(-45)" font-size="8.1" text-anchor="end" stroke="#1c1c1c" stroke-width="0.05" fill="#1c1c1c">Feb-16</text>
<text x="0" y="0" transform="translate(473.34,520.00) rotate(-45)" font-size="8.1" text-anchor="end" stroke="#1c1c1c" stroke-width="0.05" fill="#1c1c1c">Mar-16</text>
<text x="0" y="0" transform="translate(488.30,520.00) rotate(-45)" font-size="8.1" text-anchor="end" stroke="#1c1c1c" stroke-width="0.05" fill="#1c1c1c">Apr-16</text>
</svg>
</body></html>
